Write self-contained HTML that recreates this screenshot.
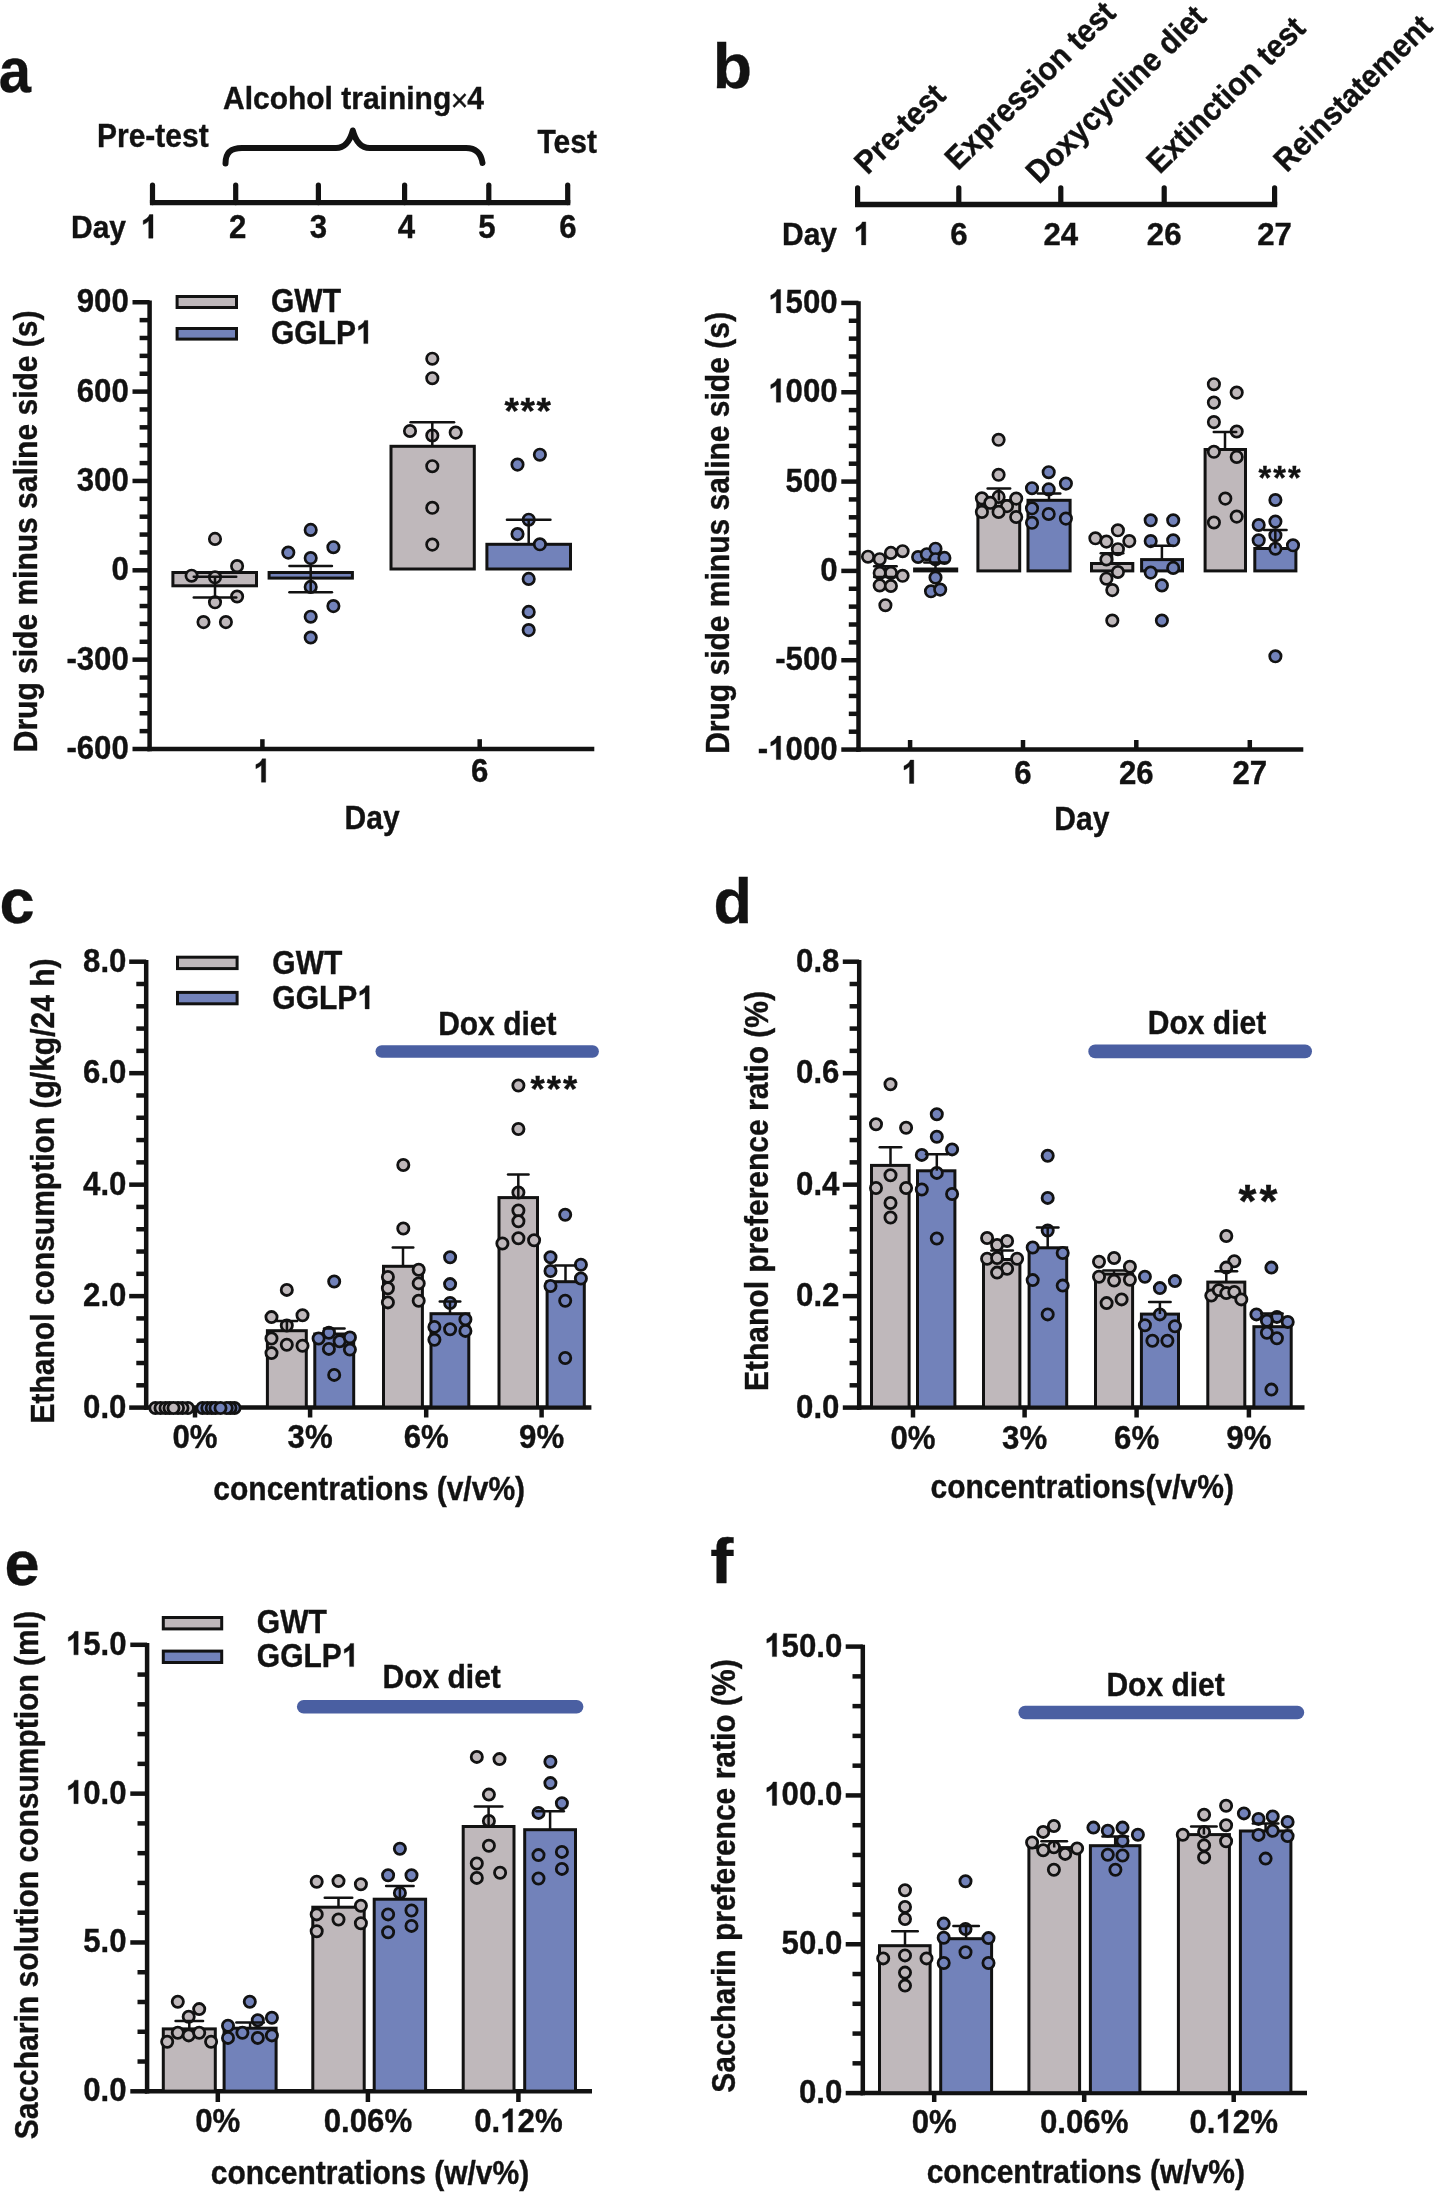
<!DOCTYPE html>
<html><head><meta charset="utf-8"><title>Figure</title>
<style>
html,body{margin:0;padding:0;background:#fff;}
body{width:1437px;height:2194px;overflow:hidden;}
svg{display:block;will-change:transform;}
text{font-family:"Liberation Sans", sans-serif;font-weight:bold;fill:#121212;stroke:#121212;stroke-width:0.35px;}
.h1{fill-opacity:0;stroke-opacity:0;}
.one{fill:#121212;stroke:#121212;stroke-width:23px;}
</style></head>
<body>
<svg width="1437" height="2194" viewBox="0 0 1437 2194">
<rect width="1437" height="2194" fill="#fff"/>
<text font-size="63" text-anchor="start" transform="translate(-1.24,91.8) scale(0.92,1)" >a</text>
<text font-size="63" text-anchor="start" transform="translate(712.7,87.9) scale(1.02,1)" >b</text>
<text x="-0.5" y="922.7" font-size="63" text-anchor="start" >c</text>
<text x="713.6" y="922.7" font-size="63" text-anchor="start" >d</text>
<text x="4.5" y="1584.7" font-size="63" text-anchor="start" >e</text>
<text font-size="63" text-anchor="start" transform="translate(710.2,1583.4) scale(1.1,1)" >f</text>
<line x1="149.9" y1="202.6" x2="570.3" y2="202.6" stroke="#121212" stroke-width="5.4" stroke-linecap="butt"/>
<line x1="152.5" y1="185.2" x2="152.5" y2="202.6" stroke="#121212" stroke-width="5.2" stroke-linecap="round"/>
<line x1="235.7" y1="185.2" x2="235.7" y2="202.6" stroke="#121212" stroke-width="5.2" stroke-linecap="round"/>
<line x1="318.4" y1="185.2" x2="318.4" y2="202.6" stroke="#121212" stroke-width="5.2" stroke-linecap="round"/>
<line x1="404.6" y1="185.2" x2="404.6" y2="202.6" stroke="#121212" stroke-width="5.2" stroke-linecap="round"/>
<line x1="488.8" y1="185.2" x2="488.8" y2="202.6" stroke="#121212" stroke-width="5.2" stroke-linecap="round"/>
<line x1="567.7" y1="185.2" x2="567.7" y2="202.6" stroke="#121212" stroke-width="5.2" stroke-linecap="round"/>
<text font-size="30" text-anchor="start" transform="translate(71,237.9) scale(1,1.06)" >Day</text>
<g transform="translate(149.3,238.2) scale(1,1.06)"><text id="t1_0" font-size="31.2" text-anchor="middle" ><tspan class="h1">1</tspan></text><path class="one" d="M812,0 L531,0 L531,1059 Q377,915 168,846 L168,1101 Q278,1137 407,1237 Q536,1337 584,1466 L812,1466 Z" transform="translate(-8.67,0) scale(0.01523,-0.01523)"/></g>
<text font-size="31.2" text-anchor="middle" transform="translate(237.7,238.2) scale(1,1.06)" >2</text>
<text font-size="31.2" text-anchor="middle" transform="translate(318.3,238.2) scale(1,1.06)" >3</text>
<text font-size="31.2" text-anchor="middle" transform="translate(406.5,238.2) scale(1,1.06)" >4</text>
<text font-size="31.2" text-anchor="middle" transform="translate(486.9,238.2) scale(1,1.06)" >5</text>
<text font-size="31.2" text-anchor="middle" transform="translate(568,238.2) scale(1,1.06)" >6</text>
<text font-size="30" text-anchor="start" transform="translate(97,146.9) scale(1,1.12)" >Pre-test</text>
<text font-size="30" text-anchor="start" transform="translate(537.5,153) scale(1,1.12)" >Test</text>
<text font-size="30" transform="translate(223,108.7) scale(1,1.04)">Alcohol training<tspan font-size="30" font-weight="normal" dy="2.4" dx="-0.5">×</tspan><tspan dy="-2.4" dx="-1">4</tspan></text>
<path d="M225.5,163.5 C225.5,152 231,148 242,148 L336,148 C345,148 350,141 352.8,130.5 C355.6,141 360.6,148 369.6,148 L466,148 C476,148 481,153 482.5,163" fill="none" stroke="#121212" stroke-width="6" stroke-linecap="round" stroke-linejoin="round"/>
<line x1="149.6" y1="300.5" x2="149.6" y2="751.25" stroke="#121212" stroke-width="4.5" stroke-linecap="butt"/>
<line x1="132.5" y1="749" x2="149.6" y2="749" stroke="#121212" stroke-width="4.5" stroke-linecap="butt"/>
<line x1="132.5" y1="659.65" x2="149.6" y2="659.65" stroke="#121212" stroke-width="4.5" stroke-linecap="butt"/>
<line x1="132.5" y1="570.3" x2="149.6" y2="570.3" stroke="#121212" stroke-width="4.5" stroke-linecap="butt"/>
<line x1="132.5" y1="480.95" x2="149.6" y2="480.95" stroke="#121212" stroke-width="4.5" stroke-linecap="butt"/>
<line x1="132.5" y1="391.6" x2="149.6" y2="391.6" stroke="#121212" stroke-width="4.5" stroke-linecap="butt"/>
<line x1="132.5" y1="302.25" x2="149.6" y2="302.25" stroke="#121212" stroke-width="4.5" stroke-linecap="butt"/>
<line x1="139.6" y1="731.13" x2="149.6" y2="731.13" stroke="#121212" stroke-width="4.5" stroke-linecap="butt"/>
<line x1="139.6" y1="713.26" x2="149.6" y2="713.26" stroke="#121212" stroke-width="4.5" stroke-linecap="butt"/>
<line x1="139.6" y1="695.39" x2="149.6" y2="695.39" stroke="#121212" stroke-width="4.5" stroke-linecap="butt"/>
<line x1="139.6" y1="677.52" x2="149.6" y2="677.52" stroke="#121212" stroke-width="4.5" stroke-linecap="butt"/>
<line x1="139.6" y1="641.78" x2="149.6" y2="641.78" stroke="#121212" stroke-width="4.5" stroke-linecap="butt"/>
<line x1="139.6" y1="623.91" x2="149.6" y2="623.91" stroke="#121212" stroke-width="4.5" stroke-linecap="butt"/>
<line x1="139.6" y1="606.04" x2="149.6" y2="606.04" stroke="#121212" stroke-width="4.5" stroke-linecap="butt"/>
<line x1="139.6" y1="588.17" x2="149.6" y2="588.17" stroke="#121212" stroke-width="4.5" stroke-linecap="butt"/>
<line x1="139.6" y1="552.43" x2="149.6" y2="552.43" stroke="#121212" stroke-width="4.5" stroke-linecap="butt"/>
<line x1="139.6" y1="534.56" x2="149.6" y2="534.56" stroke="#121212" stroke-width="4.5" stroke-linecap="butt"/>
<line x1="139.6" y1="516.69" x2="149.6" y2="516.69" stroke="#121212" stroke-width="4.5" stroke-linecap="butt"/>
<line x1="139.6" y1="498.82" x2="149.6" y2="498.82" stroke="#121212" stroke-width="4.5" stroke-linecap="butt"/>
<line x1="139.6" y1="463.08" x2="149.6" y2="463.08" stroke="#121212" stroke-width="4.5" stroke-linecap="butt"/>
<line x1="139.6" y1="445.21" x2="149.6" y2="445.21" stroke="#121212" stroke-width="4.5" stroke-linecap="butt"/>
<line x1="139.6" y1="427.34" x2="149.6" y2="427.34" stroke="#121212" stroke-width="4.5" stroke-linecap="butt"/>
<line x1="139.6" y1="409.47" x2="149.6" y2="409.47" stroke="#121212" stroke-width="4.5" stroke-linecap="butt"/>
<line x1="139.6" y1="373.73" x2="149.6" y2="373.73" stroke="#121212" stroke-width="4.5" stroke-linecap="butt"/>
<line x1="139.6" y1="355.86" x2="149.6" y2="355.86" stroke="#121212" stroke-width="4.5" stroke-linecap="butt"/>
<line x1="139.6" y1="337.99" x2="149.6" y2="337.99" stroke="#121212" stroke-width="4.5" stroke-linecap="butt"/>
<line x1="139.6" y1="320.12" x2="149.6" y2="320.12" stroke="#121212" stroke-width="4.5" stroke-linecap="butt"/>
<text font-size="31.2" text-anchor="end" transform="translate(128.8,759) scale(1,1.05)" >-600</text>
<text font-size="31.2" text-anchor="end" transform="translate(128.8,669.65) scale(1,1.05)" >-300</text>
<text font-size="31.2" text-anchor="end" transform="translate(128.8,580.3) scale(1,1.05)" >0</text>
<text font-size="31.2" text-anchor="end" transform="translate(128.8,490.95) scale(1,1.05)" >300</text>
<text font-size="31.2" text-anchor="end" transform="translate(128.8,401.6) scale(1,1.05)" >600</text>
<text font-size="31.2" text-anchor="end" transform="translate(128.8,312.25) scale(1,1.05)" >900</text>
<line x1="147.35" y1="749" x2="594.3" y2="749" stroke="#121212" stroke-width="4.5" stroke-linecap="butt"/>
<line x1="262.4" y1="749" x2="262.4" y2="739.2" stroke="#121212" stroke-width="4.5" stroke-linecap="butt"/>
<line x1="479.7" y1="749" x2="479.7" y2="739.2" stroke="#121212" stroke-width="4.5" stroke-linecap="butt"/>
<g transform="translate(262,782.2) scale(1,1.05)"><text id="t1_1" font-size="31.2" text-anchor="middle" ><tspan class="h1">1</tspan></text><path class="one" d="M812,0 L531,0 L531,1059 Q377,915 168,846 L168,1101 Q278,1137 407,1237 Q536,1337 584,1466 L812,1466 Z" transform="translate(-8.67,0) scale(0.01523,-0.01523)"/></g>
<text font-size="31.2" text-anchor="middle" transform="translate(479.7,782.2) scale(1,1.05)" >6</text>
<text font-size="30" text-anchor="middle" transform="translate(372.1,829.2) scale(1,1.08)" >Day</text>
<text font-size="30" text-anchor="middle" transform="translate(37,531.4) rotate(-90) scale(1,1.08)">Drug side minus saline side (s)</text>
<rect x="177.1" y="296.5" width="59.4" height="11" fill="#bfb8bb" stroke="#121212" stroke-width="3"/>
<rect x="177.1" y="328.5" width="59.4" height="10.6" fill="#7282ba" stroke="#121212" stroke-width="3"/>
<text font-size="30" text-anchor="start" transform="translate(271,311.6) scale(1,1.08)" >GWT</text>
<g transform="translate(271,343.6) scale(1,1.08)"><text id="t1_2" font-size="30" text-anchor="start" >GGLP<tspan class="h1">1</tspan></text><path class="one" d="M812,0 L531,0 L531,1059 Q377,915 168,846 L168,1101 Q278,1137 407,1237 Q536,1337 584,1466 L812,1466 Z" transform="translate(85.00,0) scale(0.01465,-0.01465)"/></g>
<rect x="172.9" y="572.5" width="83.6" height="13.3" fill="#bfb8bb" stroke="#121212" stroke-width="3"/>
<rect x="269.1" y="572.5" width="83.3" height="5.6" fill="#7282ba" stroke="#121212" stroke-width="3"/>
<rect x="391" y="446.3" width="83.3" height="122.7" fill="#bfb8bb" stroke="#121212" stroke-width="3"/>
<rect x="486.9" y="544.3" width="83.6" height="24.7" fill="#7282ba" stroke="#121212" stroke-width="3"/>
<circle cx="215" cy="538.9" r="5.7" fill="#bfb8bb" stroke="#121212" stroke-width="2.7"/>
<circle cx="237.1" cy="566.1" r="5.7" fill="#bfb8bb" stroke="#121212" stroke-width="2.7"/>
<circle cx="191.6" cy="575.7" r="5.7" fill="#bfb8bb" stroke="#121212" stroke-width="2.7"/>
<circle cx="215" cy="577.3" r="5.7" fill="#bfb8bb" stroke="#121212" stroke-width="2.7"/>
<circle cx="237.1" cy="596.5" r="5.7" fill="#bfb8bb" stroke="#121212" stroke-width="2.7"/>
<circle cx="215" cy="602.3" r="5.7" fill="#bfb8bb" stroke="#121212" stroke-width="2.7"/>
<circle cx="203.5" cy="622.1" r="5.7" fill="#bfb8bb" stroke="#121212" stroke-width="2.7"/>
<circle cx="225.9" cy="622.1" r="5.7" fill="#bfb8bb" stroke="#121212" stroke-width="2.7"/>
<circle cx="310.7" cy="529.9" r="5.7" fill="#7282ba" stroke="#121212" stroke-width="2.7"/>
<circle cx="288.3" cy="552.6" r="5.7" fill="#7282ba" stroke="#121212" stroke-width="2.7"/>
<circle cx="333.4" cy="547.2" r="5.7" fill="#7282ba" stroke="#121212" stroke-width="2.7"/>
<circle cx="310.7" cy="558.1" r="5.7" fill="#7282ba" stroke="#121212" stroke-width="2.7"/>
<circle cx="310.7" cy="586.9" r="5.7" fill="#7282ba" stroke="#121212" stroke-width="2.7"/>
<circle cx="333.4" cy="606.1" r="5.7" fill="#7282ba" stroke="#121212" stroke-width="2.7"/>
<circle cx="310.7" cy="616.7" r="5.7" fill="#7282ba" stroke="#121212" stroke-width="2.7"/>
<circle cx="310.7" cy="637.5" r="5.7" fill="#7282ba" stroke="#121212" stroke-width="2.7"/>
<circle cx="432.3" cy="358.7" r="5.7" fill="#bfb8bb" stroke="#121212" stroke-width="2.7"/>
<circle cx="432.3" cy="378.2" r="5.7" fill="#bfb8bb" stroke="#121212" stroke-width="2.7"/>
<circle cx="410" cy="431" r="5.7" fill="#bfb8bb" stroke="#121212" stroke-width="2.7"/>
<circle cx="432.3" cy="435.5" r="5.7" fill="#bfb8bb" stroke="#121212" stroke-width="2.7"/>
<circle cx="455.7" cy="432.6" r="5.7" fill="#bfb8bb" stroke="#121212" stroke-width="2.7"/>
<circle cx="432.3" cy="466.2" r="5.7" fill="#bfb8bb" stroke="#121212" stroke-width="2.7"/>
<circle cx="432.3" cy="507.8" r="5.7" fill="#bfb8bb" stroke="#121212" stroke-width="2.7"/>
<circle cx="432.3" cy="544.6" r="5.7" fill="#bfb8bb" stroke="#121212" stroke-width="2.7"/>
<circle cx="539.9" cy="454.7" r="5.7" fill="#7282ba" stroke="#121212" stroke-width="2.7"/>
<circle cx="517.5" cy="464.6" r="5.7" fill="#7282ba" stroke="#121212" stroke-width="2.7"/>
<circle cx="528.7" cy="519.7" r="5.7" fill="#7282ba" stroke="#121212" stroke-width="2.7"/>
<circle cx="517.5" cy="534.1" r="5.7" fill="#7282ba" stroke="#121212" stroke-width="2.7"/>
<circle cx="539.9" cy="544.3" r="5.7" fill="#7282ba" stroke="#121212" stroke-width="2.7"/>
<circle cx="528.7" cy="578.9" r="5.7" fill="#7282ba" stroke="#121212" stroke-width="2.7"/>
<circle cx="528.7" cy="611.9" r="5.7" fill="#7282ba" stroke="#121212" stroke-width="2.7"/>
<circle cx="528.7" cy="630.1" r="5.7" fill="#7282ba" stroke="#121212" stroke-width="2.7"/>
<text x="504.4" y="423.7" font-size="37" text-anchor="start" letter-spacing="1.6">***</text>
<line x1="855" y1="204.5" x2="1277.2" y2="204.5" stroke="#121212" stroke-width="5.4" stroke-linecap="butt"/>
<line x1="857.6" y1="187.8" x2="857.6" y2="204.5" stroke="#121212" stroke-width="5.2" stroke-linecap="round"/>
<line x1="958.8" y1="187.8" x2="958.8" y2="204.5" stroke="#121212" stroke-width="5.2" stroke-linecap="round"/>
<line x1="1060.8" y1="187.8" x2="1060.8" y2="204.5" stroke="#121212" stroke-width="5.2" stroke-linecap="round"/>
<line x1="1164.2" y1="187.8" x2="1164.2" y2="204.5" stroke="#121212" stroke-width="5.2" stroke-linecap="round"/>
<line x1="1274.6" y1="187.8" x2="1274.6" y2="204.5" stroke="#121212" stroke-width="5.2" stroke-linecap="round"/>
<text font-size="30" text-anchor="start" transform="translate(782,244.9) scale(1,1.03)" >Day</text>
<g transform="translate(862.1,244.9) scale(1,1.03)"><text id="t1_3" font-size="31.2" text-anchor="middle" ><tspan class="h1">1</tspan></text><path class="one" d="M812,0 L531,0 L531,1059 Q377,915 168,846 L168,1101 Q278,1137 407,1237 Q536,1337 584,1466 L812,1466 Z" transform="translate(-8.67,0) scale(0.01523,-0.01523)"/></g>
<text font-size="31.2" text-anchor="middle" transform="translate(958.8,244.9) scale(1,1.03)" >6</text>
<text font-size="31.2" text-anchor="middle" transform="translate(1060.8,244.9) scale(1,1.03)" >24</text>
<text font-size="31.2" text-anchor="middle" transform="translate(1164.2,244.9) scale(1,1.03)" >26</text>
<text font-size="31.2" text-anchor="middle" transform="translate(1274.6,244.9) scale(1,1.03)" >27</text>
<text font-size="30" transform="translate(867.6,175.7) rotate(-44.5) scale(1,1.08)">Pre-test</text>
<text font-size="30" transform="translate(958.1,171.5) rotate(-44.5) scale(1,1.08)">Expression test</text>
<text font-size="30" transform="translate(1039.1,185) rotate(-44.5) scale(1,1.08)">Doxycycline diet</text>
<text font-size="30" transform="translate(1159.8,175) rotate(-44.5) scale(1,1.08)">Extinction test</text>
<text font-size="30" transform="translate(1286.7,173.4) rotate(-44.5) scale(1,1.08)">Reinstatement</text>
<line x1="858.5" y1="301.16" x2="858.5" y2="751.81" stroke="#121212" stroke-width="4.5" stroke-linecap="butt"/>
<line x1="841.3" y1="749.56" x2="858.5" y2="749.56" stroke="#121212" stroke-width="4.5" stroke-linecap="butt"/>
<line x1="841.3" y1="660.23" x2="858.5" y2="660.23" stroke="#121212" stroke-width="4.5" stroke-linecap="butt"/>
<line x1="841.3" y1="570.9" x2="858.5" y2="570.9" stroke="#121212" stroke-width="4.5" stroke-linecap="butt"/>
<line x1="841.3" y1="481.57" x2="858.5" y2="481.57" stroke="#121212" stroke-width="4.5" stroke-linecap="butt"/>
<line x1="841.3" y1="392.24" x2="858.5" y2="392.24" stroke="#121212" stroke-width="4.5" stroke-linecap="butt"/>
<line x1="841.3" y1="302.91" x2="858.5" y2="302.91" stroke="#121212" stroke-width="4.5" stroke-linecap="butt"/>
<line x1="848.8" y1="731.69" x2="858.5" y2="731.69" stroke="#121212" stroke-width="4.5" stroke-linecap="butt"/>
<line x1="848.8" y1="713.83" x2="858.5" y2="713.83" stroke="#121212" stroke-width="4.5" stroke-linecap="butt"/>
<line x1="848.8" y1="695.96" x2="858.5" y2="695.96" stroke="#121212" stroke-width="4.5" stroke-linecap="butt"/>
<line x1="848.8" y1="678.1" x2="858.5" y2="678.1" stroke="#121212" stroke-width="4.5" stroke-linecap="butt"/>
<line x1="848.8" y1="642.36" x2="858.5" y2="642.36" stroke="#121212" stroke-width="4.5" stroke-linecap="butt"/>
<line x1="848.8" y1="624.5" x2="858.5" y2="624.5" stroke="#121212" stroke-width="4.5" stroke-linecap="butt"/>
<line x1="848.8" y1="606.63" x2="858.5" y2="606.63" stroke="#121212" stroke-width="4.5" stroke-linecap="butt"/>
<line x1="848.8" y1="588.77" x2="858.5" y2="588.77" stroke="#121212" stroke-width="4.5" stroke-linecap="butt"/>
<line x1="848.8" y1="553.03" x2="858.5" y2="553.03" stroke="#121212" stroke-width="4.5" stroke-linecap="butt"/>
<line x1="848.8" y1="535.17" x2="858.5" y2="535.17" stroke="#121212" stroke-width="4.5" stroke-linecap="butt"/>
<line x1="848.8" y1="517.3" x2="858.5" y2="517.3" stroke="#121212" stroke-width="4.5" stroke-linecap="butt"/>
<line x1="848.8" y1="499.44" x2="858.5" y2="499.44" stroke="#121212" stroke-width="4.5" stroke-linecap="butt"/>
<line x1="848.8" y1="463.7" x2="858.5" y2="463.7" stroke="#121212" stroke-width="4.5" stroke-linecap="butt"/>
<line x1="848.8" y1="445.84" x2="858.5" y2="445.84" stroke="#121212" stroke-width="4.5" stroke-linecap="butt"/>
<line x1="848.8" y1="427.97" x2="858.5" y2="427.97" stroke="#121212" stroke-width="4.5" stroke-linecap="butt"/>
<line x1="848.8" y1="410.11" x2="858.5" y2="410.11" stroke="#121212" stroke-width="4.5" stroke-linecap="butt"/>
<line x1="848.8" y1="374.37" x2="858.5" y2="374.37" stroke="#121212" stroke-width="4.5" stroke-linecap="butt"/>
<line x1="848.8" y1="356.51" x2="858.5" y2="356.51" stroke="#121212" stroke-width="4.5" stroke-linecap="butt"/>
<line x1="848.8" y1="338.64" x2="858.5" y2="338.64" stroke="#121212" stroke-width="4.5" stroke-linecap="butt"/>
<line x1="848.8" y1="320.78" x2="858.5" y2="320.78" stroke="#121212" stroke-width="4.5" stroke-linecap="butt"/>
<g transform="translate(837.6,759.56) scale(1,1.05)"><text id="t1_4" font-size="31.2" text-anchor="end" >-<tspan class="h1">1</tspan>000</text><path class="one" d="M812,0 L531,0 L531,1059 Q377,915 168,846 L168,1101 Q278,1137 407,1237 Q536,1337 584,1466 L812,1466 Z" transform="translate(-69.37,0) scale(0.01523,-0.01523)"/></g>
<text font-size="31.2" text-anchor="end" transform="translate(837.6,670.23) scale(1,1.05)" >-500</text>
<text font-size="31.2" text-anchor="end" transform="translate(837.6,580.9) scale(1,1.05)" >0</text>
<text font-size="31.2" text-anchor="end" transform="translate(837.6,491.57) scale(1,1.05)" >500</text>
<g transform="translate(837.6,402.24) scale(1,1.05)"><text id="t1_5" font-size="31.2" text-anchor="end" ><tspan class="h1">1</tspan>000</text><path class="one" d="M812,0 L531,0 L531,1059 Q377,915 168,846 L168,1101 Q278,1137 407,1237 Q536,1337 584,1466 L812,1466 Z" transform="translate(-69.37,0) scale(0.01523,-0.01523)"/></g>
<g transform="translate(837.6,312.91) scale(1,1.05)"><text id="t1_6" font-size="31.2" text-anchor="end" ><tspan class="h1">1</tspan>500</text><path class="one" d="M812,0 L531,0 L531,1059 Q377,915 168,846 L168,1101 Q278,1137 407,1237 Q536,1337 584,1466 L812,1466 Z" transform="translate(-69.37,0) scale(0.01523,-0.01523)"/></g>
<line x1="856.25" y1="749.56" x2="1303.3" y2="749.56" stroke="#121212" stroke-width="4.5" stroke-linecap="butt"/>
<line x1="910.1" y1="749.56" x2="910.1" y2="740" stroke="#121212" stroke-width="4.5" stroke-linecap="butt"/>
<line x1="1023" y1="749.56" x2="1023" y2="740" stroke="#121212" stroke-width="4.5" stroke-linecap="butt"/>
<line x1="1136.3" y1="749.56" x2="1136.3" y2="740" stroke="#121212" stroke-width="4.5" stroke-linecap="butt"/>
<line x1="1249.8" y1="749.56" x2="1249.8" y2="740" stroke="#121212" stroke-width="4.5" stroke-linecap="butt"/>
<g transform="translate(910.1,783.5) scale(1,1.05)"><text id="t1_7" font-size="31.2" text-anchor="middle" ><tspan class="h1">1</tspan></text><path class="one" d="M812,0 L531,0 L531,1059 Q377,915 168,846 L168,1101 Q278,1137 407,1237 Q536,1337 584,1466 L812,1466 Z" transform="translate(-8.67,0) scale(0.01523,-0.01523)"/></g>
<text font-size="31.2" text-anchor="middle" transform="translate(1023,783.5) scale(1,1.05)" >6</text>
<text font-size="31.2" text-anchor="middle" transform="translate(1136.3,783.5) scale(1,1.05)" >26</text>
<text font-size="31.2" text-anchor="middle" transform="translate(1249.8,783.5) scale(1,1.05)" >27</text>
<text font-size="30" text-anchor="middle" transform="translate(1081.8,830.2) scale(1,1.08)" >Day</text>
<text font-size="30" text-anchor="middle" transform="translate(728.6,533) rotate(-90) scale(1,1.08)">Drug side minus saline side (s)</text>
<rect x="914.6" y="569" width="42.1" height="1.9" fill="#7282ba" stroke="#121212" stroke-width="3"/>
<rect x="977.9" y="500.7" width="41.8" height="70.2" fill="#bfb8bb" stroke="#121212" stroke-width="3"/>
<rect x="1028" y="500.3" width="42.1" height="70.6" fill="#7282ba" stroke="#121212" stroke-width="3"/>
<rect x="1091.5" y="563.5" width="41.3" height="7.4" fill="#bfb8bb" stroke="#121212" stroke-width="3"/>
<rect x="1141.6" y="559.6" width="40.9" height="11.3" fill="#7282ba" stroke="#121212" stroke-width="3"/>
<rect x="1205.1" y="449.5" width="40.4" height="121.4" fill="#bfb8bb" stroke="#121212" stroke-width="3"/>
<rect x="1254.8" y="548.5" width="41.1" height="22.4" fill="#7282ba" stroke="#121212" stroke-width="3"/>
<circle cx="868" cy="556.7" r="5.7" fill="#bfb8bb" stroke="#121212" stroke-width="2.7"/>
<circle cx="879.7" cy="559.2" r="5.7" fill="#bfb8bb" stroke="#121212" stroke-width="2.7"/>
<circle cx="890.9" cy="552.9" r="5.7" fill="#bfb8bb" stroke="#121212" stroke-width="2.7"/>
<circle cx="902.6" cy="551.2" r="5.7" fill="#bfb8bb" stroke="#121212" stroke-width="2.7"/>
<circle cx="879.7" cy="572.9" r="5.7" fill="#bfb8bb" stroke="#121212" stroke-width="2.7"/>
<circle cx="890.9" cy="572.9" r="5.7" fill="#bfb8bb" stroke="#121212" stroke-width="2.7"/>
<circle cx="902.6" cy="575.8" r="5.7" fill="#bfb8bb" stroke="#121212" stroke-width="2.7"/>
<circle cx="879.7" cy="585.4" r="5.7" fill="#bfb8bb" stroke="#121212" stroke-width="2.7"/>
<circle cx="890.9" cy="586" r="5.7" fill="#bfb8bb" stroke="#121212" stroke-width="2.7"/>
<circle cx="885.4" cy="605.2" r="5.7" fill="#bfb8bb" stroke="#121212" stroke-width="2.7"/>
<circle cx="918.1" cy="557" r="5.7" fill="#7282ba" stroke="#121212" stroke-width="2.7"/>
<circle cx="926.8" cy="554.2" r="5.7" fill="#7282ba" stroke="#121212" stroke-width="2.7"/>
<circle cx="935.5" cy="548.7" r="5.7" fill="#7282ba" stroke="#121212" stroke-width="2.7"/>
<circle cx="935.5" cy="559.2" r="5.7" fill="#7282ba" stroke="#121212" stroke-width="2.7"/>
<circle cx="944.4" cy="557.9" r="5.7" fill="#7282ba" stroke="#121212" stroke-width="2.7"/>
<circle cx="935.5" cy="577.6" r="5.7" fill="#7282ba" stroke="#121212" stroke-width="2.7"/>
<circle cx="931" cy="591.3" r="5.7" fill="#7282ba" stroke="#121212" stroke-width="2.7"/>
<circle cx="940.2" cy="589.6" r="5.7" fill="#7282ba" stroke="#121212" stroke-width="2.7"/>
<circle cx="998.6" cy="439.8" r="5.7" fill="#bfb8bb" stroke="#121212" stroke-width="2.7"/>
<circle cx="998.6" cy="474.8" r="5.7" fill="#bfb8bb" stroke="#121212" stroke-width="2.7"/>
<circle cx="981.9" cy="498.3" r="5.7" fill="#bfb8bb" stroke="#121212" stroke-width="2.7"/>
<circle cx="998.6" cy="496.9" r="5.7" fill="#bfb8bb" stroke="#121212" stroke-width="2.7"/>
<circle cx="1016.2" cy="498.6" r="5.7" fill="#bfb8bb" stroke="#121212" stroke-width="2.7"/>
<circle cx="990.3" cy="502.8" r="5.7" fill="#bfb8bb" stroke="#121212" stroke-width="2.7"/>
<circle cx="1007" cy="506.1" r="5.7" fill="#bfb8bb" stroke="#121212" stroke-width="2.7"/>
<circle cx="981.9" cy="511.9" r="5.7" fill="#bfb8bb" stroke="#121212" stroke-width="2.7"/>
<circle cx="998.6" cy="511.9" r="5.7" fill="#bfb8bb" stroke="#121212" stroke-width="2.7"/>
<circle cx="1016.2" cy="517" r="5.7" fill="#bfb8bb" stroke="#121212" stroke-width="2.7"/>
<circle cx="1048.7" cy="472.2" r="5.7" fill="#7282ba" stroke="#121212" stroke-width="2.7"/>
<circle cx="1032" cy="488.2" r="5.7" fill="#7282ba" stroke="#121212" stroke-width="2.7"/>
<circle cx="1065.9" cy="483.6" r="5.7" fill="#7282ba" stroke="#121212" stroke-width="2.7"/>
<circle cx="1048.7" cy="489.4" r="5.7" fill="#7282ba" stroke="#121212" stroke-width="2.7"/>
<circle cx="1032" cy="508.3" r="5.7" fill="#7282ba" stroke="#121212" stroke-width="2.7"/>
<circle cx="1048.7" cy="514" r="5.7" fill="#7282ba" stroke="#121212" stroke-width="2.7"/>
<circle cx="1065.9" cy="518.6" r="5.7" fill="#7282ba" stroke="#121212" stroke-width="2.7"/>
<circle cx="1032" cy="522.8" r="5.7" fill="#7282ba" stroke="#121212" stroke-width="2.7"/>
<circle cx="1095.4" cy="538.3" r="5.7" fill="#bfb8bb" stroke="#121212" stroke-width="2.7"/>
<circle cx="1106.4" cy="541.6" r="5.7" fill="#bfb8bb" stroke="#121212" stroke-width="2.7"/>
<circle cx="1117.9" cy="530.3" r="5.7" fill="#bfb8bb" stroke="#121212" stroke-width="2.7"/>
<circle cx="1129.3" cy="541.1" r="5.7" fill="#bfb8bb" stroke="#121212" stroke-width="2.7"/>
<circle cx="1117.9" cy="549.2" r="5.7" fill="#bfb8bb" stroke="#121212" stroke-width="2.7"/>
<circle cx="1106.4" cy="559.5" r="5.7" fill="#bfb8bb" stroke="#121212" stroke-width="2.7"/>
<circle cx="1117.9" cy="572" r="5.7" fill="#bfb8bb" stroke="#121212" stroke-width="2.7"/>
<circle cx="1106.4" cy="578.7" r="5.7" fill="#bfb8bb" stroke="#121212" stroke-width="2.7"/>
<circle cx="1112.3" cy="590.1" r="5.7" fill="#bfb8bb" stroke="#121212" stroke-width="2.7"/>
<circle cx="1112.3" cy="620.5" r="5.7" fill="#bfb8bb" stroke="#121212" stroke-width="2.7"/>
<circle cx="1150.7" cy="520.3" r="5.7" fill="#7282ba" stroke="#121212" stroke-width="2.7"/>
<circle cx="1173.2" cy="520.3" r="5.7" fill="#7282ba" stroke="#121212" stroke-width="2.7"/>
<circle cx="1150.7" cy="541.1" r="5.7" fill="#7282ba" stroke="#121212" stroke-width="2.7"/>
<circle cx="1173.2" cy="540.3" r="5.7" fill="#7282ba" stroke="#121212" stroke-width="2.7"/>
<circle cx="1173.2" cy="567.9" r="5.7" fill="#7282ba" stroke="#121212" stroke-width="2.7"/>
<circle cx="1150.7" cy="572.6" r="5.7" fill="#7282ba" stroke="#121212" stroke-width="2.7"/>
<circle cx="1161.9" cy="585.4" r="5.7" fill="#7282ba" stroke="#121212" stroke-width="2.7"/>
<circle cx="1161.9" cy="620.5" r="5.7" fill="#7282ba" stroke="#121212" stroke-width="2.7"/>
<circle cx="1213.9" cy="384.2" r="5.7" fill="#bfb8bb" stroke="#121212" stroke-width="2.7"/>
<circle cx="1236.7" cy="392.6" r="5.7" fill="#bfb8bb" stroke="#121212" stroke-width="2.7"/>
<circle cx="1213.9" cy="402.6" r="5.7" fill="#bfb8bb" stroke="#121212" stroke-width="2.7"/>
<circle cx="1213.9" cy="422.1" r="5.7" fill="#bfb8bb" stroke="#121212" stroke-width="2.7"/>
<circle cx="1236.7" cy="431.5" r="5.7" fill="#bfb8bb" stroke="#121212" stroke-width="2.7"/>
<circle cx="1213.9" cy="451.8" r="5.7" fill="#bfb8bb" stroke="#121212" stroke-width="2.7"/>
<circle cx="1236.7" cy="456.9" r="5.7" fill="#bfb8bb" stroke="#121212" stroke-width="2.7"/>
<circle cx="1225.3" cy="498.6" r="5.7" fill="#bfb8bb" stroke="#121212" stroke-width="2.7"/>
<circle cx="1236.7" cy="516.6" r="5.7" fill="#bfb8bb" stroke="#121212" stroke-width="2.7"/>
<circle cx="1213.9" cy="522.5" r="5.7" fill="#bfb8bb" stroke="#121212" stroke-width="2.7"/>
<circle cx="1275.4" cy="500" r="5.7" fill="#7282ba" stroke="#121212" stroke-width="2.7"/>
<circle cx="1258.7" cy="525" r="5.7" fill="#7282ba" stroke="#121212" stroke-width="2.7"/>
<circle cx="1275.4" cy="521.6" r="5.7" fill="#7282ba" stroke="#121212" stroke-width="2.7"/>
<circle cx="1275.4" cy="535.3" r="5.7" fill="#7282ba" stroke="#121212" stroke-width="2.7"/>
<circle cx="1258.7" cy="540.3" r="5.7" fill="#7282ba" stroke="#121212" stroke-width="2.7"/>
<circle cx="1293" cy="545.3" r="5.7" fill="#7282ba" stroke="#121212" stroke-width="2.7"/>
<circle cx="1275.4" cy="548.7" r="5.7" fill="#7282ba" stroke="#121212" stroke-width="2.7"/>
<circle cx="1275.4" cy="656.3" r="5.7" fill="#7282ba" stroke="#121212" stroke-width="2.7"/>
<text x="1258.4" y="488.9" font-size="32.6" text-anchor="start" letter-spacing="2.1">***</text>
<line x1="146.2" y1="959.95" x2="146.2" y2="1409.85" stroke="#121212" stroke-width="4.5" stroke-linecap="butt"/>
<line x1="129.2" y1="1407.6" x2="146.2" y2="1407.6" stroke="#121212" stroke-width="4.5" stroke-linecap="butt"/>
<line x1="129.2" y1="1296.12" x2="146.2" y2="1296.12" stroke="#121212" stroke-width="4.5" stroke-linecap="butt"/>
<line x1="129.2" y1="1184.65" x2="146.2" y2="1184.65" stroke="#121212" stroke-width="4.5" stroke-linecap="butt"/>
<line x1="129.2" y1="1073.17" x2="146.2" y2="1073.17" stroke="#121212" stroke-width="4.5" stroke-linecap="butt"/>
<line x1="129.2" y1="961.7" x2="146.2" y2="961.7" stroke="#121212" stroke-width="4.5" stroke-linecap="butt"/>
<line x1="136.3" y1="1385.3" x2="146.2" y2="1385.3" stroke="#121212" stroke-width="4.5" stroke-linecap="butt"/>
<line x1="136.3" y1="1363.01" x2="146.2" y2="1363.01" stroke="#121212" stroke-width="4.5" stroke-linecap="butt"/>
<line x1="136.3" y1="1340.71" x2="146.2" y2="1340.71" stroke="#121212" stroke-width="4.5" stroke-linecap="butt"/>
<line x1="136.3" y1="1318.42" x2="146.2" y2="1318.42" stroke="#121212" stroke-width="4.5" stroke-linecap="butt"/>
<line x1="136.3" y1="1273.83" x2="146.2" y2="1273.83" stroke="#121212" stroke-width="4.5" stroke-linecap="butt"/>
<line x1="136.3" y1="1251.53" x2="146.2" y2="1251.53" stroke="#121212" stroke-width="4.5" stroke-linecap="butt"/>
<line x1="136.3" y1="1229.24" x2="146.2" y2="1229.24" stroke="#121212" stroke-width="4.5" stroke-linecap="butt"/>
<line x1="136.3" y1="1206.94" x2="146.2" y2="1206.94" stroke="#121212" stroke-width="4.5" stroke-linecap="butt"/>
<line x1="136.3" y1="1162.36" x2="146.2" y2="1162.36" stroke="#121212" stroke-width="4.5" stroke-linecap="butt"/>
<line x1="136.3" y1="1140.06" x2="146.2" y2="1140.06" stroke="#121212" stroke-width="4.5" stroke-linecap="butt"/>
<line x1="136.3" y1="1117.76" x2="146.2" y2="1117.76" stroke="#121212" stroke-width="4.5" stroke-linecap="butt"/>
<line x1="136.3" y1="1095.47" x2="146.2" y2="1095.47" stroke="#121212" stroke-width="4.5" stroke-linecap="butt"/>
<line x1="136.3" y1="1050.88" x2="146.2" y2="1050.88" stroke="#121212" stroke-width="4.5" stroke-linecap="butt"/>
<line x1="136.3" y1="1028.58" x2="146.2" y2="1028.58" stroke="#121212" stroke-width="4.5" stroke-linecap="butt"/>
<line x1="136.3" y1="1006.29" x2="146.2" y2="1006.29" stroke="#121212" stroke-width="4.5" stroke-linecap="butt"/>
<line x1="136.3" y1="983.99" x2="146.2" y2="983.99" stroke="#121212" stroke-width="4.5" stroke-linecap="butt"/>
<text font-size="31.2" text-anchor="end" transform="translate(126.4,1417.6) scale(1,1.05)" >0.0</text>
<text font-size="31.2" text-anchor="end" transform="translate(126.4,1306.12) scale(1,1.05)" >2.0</text>
<text font-size="31.2" text-anchor="end" transform="translate(126.4,1194.65) scale(1,1.05)" >4.0</text>
<text font-size="31.2" text-anchor="end" transform="translate(126.4,1083.17) scale(1,1.05)" >6.0</text>
<text font-size="31.2" text-anchor="end" transform="translate(126.4,971.7) scale(1,1.05)" >8.0</text>
<line x1="143.95" y1="1407.6" x2="591.4" y2="1407.6" stroke="#121212" stroke-width="4.5" stroke-linecap="butt"/>
<line x1="195" y1="1407.6" x2="195" y2="1417.5" stroke="#121212" stroke-width="4.5" stroke-linecap="butt"/>
<line x1="310.1" y1="1407.6" x2="310.1" y2="1417.5" stroke="#121212" stroke-width="4.5" stroke-linecap="butt"/>
<line x1="426.2" y1="1407.6" x2="426.2" y2="1417.5" stroke="#121212" stroke-width="4.5" stroke-linecap="butt"/>
<line x1="541.6" y1="1407.6" x2="541.6" y2="1417.5" stroke="#121212" stroke-width="4.5" stroke-linecap="butt"/>
<text font-size="31.2" text-anchor="middle" transform="translate(195,1448.2) scale(1,1.05)" >0%</text>
<text font-size="31.2" text-anchor="middle" transform="translate(310.1,1448.2) scale(1,1.05)" >3%</text>
<text font-size="31.2" text-anchor="middle" transform="translate(426.2,1448.2) scale(1,1.05)" >6%</text>
<text font-size="31.2" text-anchor="middle" transform="translate(541.6,1448.2) scale(1,1.05)" >9%</text>
<text font-size="30" text-anchor="middle" transform="translate(369.2,1500.1) scale(1,1.08)" >concentrations (v/v%)</text>
<text font-size="30" text-anchor="middle" transform="translate(54,1191) rotate(-90) scale(1,1.08)">Ethanol consumption (g/kg/24 h)</text>
<rect x="177.5" y="957.2" width="59.6" height="11.4" fill="#bfb8bb" stroke="#121212" stroke-width="3"/>
<rect x="177.5" y="992.4" width="59.6" height="11.4" fill="#7282ba" stroke="#121212" stroke-width="3"/>
<text font-size="30" text-anchor="start" transform="translate(272.3,973.7) scale(1,1.08)" >GWT</text>
<g transform="translate(272.3,1008.9) scale(1,1.08)"><text id="t1_8" font-size="30" text-anchor="start" >GGLP<tspan class="h1">1</tspan></text><path class="one" d="M812,0 L531,0 L531,1059 Q377,915 168,846 L168,1101 Q278,1137 407,1237 Q536,1337 584,1466 L812,1466 Z" transform="translate(85.00,0) scale(0.01465,-0.01465)"/></g>
<line x1="381.7" y1="1051.5" x2="592.7" y2="1051.5" stroke="#4a5fa2" stroke-width="12.4" stroke-linecap="round"/>
<text font-size="30" text-anchor="middle" transform="translate(497.3,1034.9) scale(1,1.08)" >Dox diet</text>
<rect x="267.4" y="1330.7" width="38.9" height="76.3" fill="#bfb8bb" stroke="#121212" stroke-width="3"/>
<rect x="314.8" y="1334" width="38.9" height="73" fill="#7282ba" stroke="#121212" stroke-width="3"/>
<rect x="383.5" y="1266.3" width="38.9" height="140.7" fill="#bfb8bb" stroke="#121212" stroke-width="3"/>
<rect x="431" y="1313.7" width="37.8" height="93.3" fill="#7282ba" stroke="#121212" stroke-width="3"/>
<rect x="499" y="1197.6" width="38.5" height="209.4" fill="#bfb8bb" stroke="#121212" stroke-width="3"/>
<rect x="547.1" y="1281.7" width="37.2" height="125.3" fill="#7282ba" stroke="#121212" stroke-width="3"/>
<circle cx="286.8" cy="1289.9" r="5.6" fill="#bfb8bb" stroke="#121212" stroke-width="2.8"/>
<circle cx="271.5" cy="1317.1" r="5.6" fill="#bfb8bb" stroke="#121212" stroke-width="2.8"/>
<circle cx="302.5" cy="1315.2" r="5.6" fill="#bfb8bb" stroke="#121212" stroke-width="2.8"/>
<circle cx="286.8" cy="1325.5" r="5.6" fill="#bfb8bb" stroke="#121212" stroke-width="2.8"/>
<circle cx="271.5" cy="1338.5" r="5.6" fill="#bfb8bb" stroke="#121212" stroke-width="2.8"/>
<circle cx="286.8" cy="1344.7" r="5.6" fill="#bfb8bb" stroke="#121212" stroke-width="2.8"/>
<circle cx="302.5" cy="1345.8" r="5.6" fill="#bfb8bb" stroke="#121212" stroke-width="2.8"/>
<circle cx="271.5" cy="1353.1" r="5.6" fill="#bfb8bb" stroke="#121212" stroke-width="2.8"/>
<circle cx="334.2" cy="1281.5" r="5.6" fill="#7282ba" stroke="#121212" stroke-width="2.8"/>
<circle cx="318.6" cy="1338.5" r="5.6" fill="#7282ba" stroke="#121212" stroke-width="2.8"/>
<circle cx="328.9" cy="1332.8" r="5.6" fill="#7282ba" stroke="#121212" stroke-width="2.8"/>
<circle cx="339.6" cy="1341.2" r="5.6" fill="#7282ba" stroke="#121212" stroke-width="2.8"/>
<circle cx="349.9" cy="1337.4" r="5.6" fill="#7282ba" stroke="#121212" stroke-width="2.8"/>
<circle cx="328.9" cy="1348.9" r="5.6" fill="#7282ba" stroke="#121212" stroke-width="2.8"/>
<circle cx="349.9" cy="1349.6" r="5.6" fill="#7282ba" stroke="#121212" stroke-width="2.8"/>
<circle cx="334.2" cy="1374.9" r="5.6" fill="#7282ba" stroke="#121212" stroke-width="2.8"/>
<circle cx="403.3" cy="1165" r="5.6" fill="#bfb8bb" stroke="#121212" stroke-width="2.8"/>
<circle cx="403.3" cy="1228.5" r="5.6" fill="#bfb8bb" stroke="#121212" stroke-width="2.8"/>
<circle cx="387.9" cy="1276.9" r="5.6" fill="#bfb8bb" stroke="#121212" stroke-width="2.8"/>
<circle cx="418.7" cy="1269.7" r="5.6" fill="#bfb8bb" stroke="#121212" stroke-width="2.8"/>
<circle cx="387.9" cy="1288.3" r="5.6" fill="#bfb8bb" stroke="#121212" stroke-width="2.8"/>
<circle cx="418.7" cy="1283.4" r="5.6" fill="#bfb8bb" stroke="#121212" stroke-width="2.8"/>
<circle cx="387.9" cy="1302.4" r="5.6" fill="#bfb8bb" stroke="#121212" stroke-width="2.8"/>
<circle cx="418.7" cy="1300.8" r="5.6" fill="#bfb8bb" stroke="#121212" stroke-width="2.8"/>
<circle cx="450.1" cy="1257.3" r="5.6" fill="#7282ba" stroke="#121212" stroke-width="2.8"/>
<circle cx="450.1" cy="1284.1" r="5.6" fill="#7282ba" stroke="#121212" stroke-width="2.8"/>
<circle cx="450.1" cy="1303" r="5.6" fill="#7282ba" stroke="#121212" stroke-width="2.8"/>
<circle cx="434.4" cy="1326.9" r="5.6" fill="#7282ba" stroke="#121212" stroke-width="2.8"/>
<circle cx="450.1" cy="1329.2" r="5.6" fill="#7282ba" stroke="#121212" stroke-width="2.8"/>
<circle cx="465.4" cy="1319.4" r="5.6" fill="#7282ba" stroke="#121212" stroke-width="2.8"/>
<circle cx="465.4" cy="1330.9" r="5.6" fill="#7282ba" stroke="#121212" stroke-width="2.8"/>
<circle cx="434.4" cy="1339.7" r="5.6" fill="#7282ba" stroke="#121212" stroke-width="2.8"/>
<circle cx="518.4" cy="1085.5" r="5.6" fill="#bfb8bb" stroke="#121212" stroke-width="2.8"/>
<circle cx="518.4" cy="1129" r="5.6" fill="#bfb8bb" stroke="#121212" stroke-width="2.8"/>
<circle cx="518.4" cy="1192.5" r="5.6" fill="#bfb8bb" stroke="#121212" stroke-width="2.8"/>
<circle cx="518.4" cy="1210.5" r="5.6" fill="#bfb8bb" stroke="#121212" stroke-width="2.8"/>
<circle cx="518.4" cy="1221.3" r="5.6" fill="#bfb8bb" stroke="#121212" stroke-width="2.8"/>
<circle cx="518.4" cy="1238.3" r="5.6" fill="#bfb8bb" stroke="#121212" stroke-width="2.8"/>
<circle cx="502.4" cy="1243.5" r="5.6" fill="#bfb8bb" stroke="#121212" stroke-width="2.8"/>
<circle cx="534.1" cy="1240.2" r="5.6" fill="#bfb8bb" stroke="#121212" stroke-width="2.8"/>
<circle cx="565.2" cy="1214.7" r="5.6" fill="#7282ba" stroke="#121212" stroke-width="2.8"/>
<circle cx="550.5" cy="1257.3" r="5.6" fill="#7282ba" stroke="#121212" stroke-width="2.8"/>
<circle cx="580.9" cy="1264.8" r="5.6" fill="#7282ba" stroke="#121212" stroke-width="2.8"/>
<circle cx="550.5" cy="1271" r="5.6" fill="#7282ba" stroke="#121212" stroke-width="2.8"/>
<circle cx="580.9" cy="1278.5" r="5.6" fill="#7282ba" stroke="#121212" stroke-width="2.8"/>
<circle cx="550.5" cy="1286" r="5.6" fill="#7282ba" stroke="#121212" stroke-width="2.8"/>
<circle cx="565.2" cy="1300.8" r="5.6" fill="#7282ba" stroke="#121212" stroke-width="2.8"/>
<circle cx="565.2" cy="1358" r="5.6" fill="#7282ba" stroke="#121212" stroke-width="2.8"/>
<circle cx="155.4" cy="1408" r="5.6" fill="#bfb8bb" stroke="#121212" stroke-width="2.8"/>
<circle cx="160.5" cy="1408" r="5.6" fill="#bfb8bb" stroke="#121212" stroke-width="2.8"/>
<circle cx="165.5" cy="1408" r="5.6" fill="#bfb8bb" stroke="#121212" stroke-width="2.8"/>
<circle cx="169.5" cy="1408" r="5.6" fill="#bfb8bb" stroke="#121212" stroke-width="2.8"/>
<circle cx="187.9" cy="1408" r="5.6" fill="#bfb8bb" stroke="#121212" stroke-width="2.8"/>
<circle cx="182.5" cy="1408" r="5.6" fill="#bfb8bb" stroke="#121212" stroke-width="2.8"/>
<circle cx="178" cy="1408" r="5.6" fill="#bfb8bb" stroke="#121212" stroke-width="2.8"/>
<circle cx="173.5" cy="1408" r="5.6" fill="#bfb8bb" stroke="#121212" stroke-width="2.8"/>
<circle cx="202.5" cy="1408" r="5.6" fill="#7282ba" stroke="#121212" stroke-width="2.8"/>
<circle cx="207.3" cy="1408" r="5.6" fill="#7282ba" stroke="#121212" stroke-width="2.8"/>
<circle cx="211.7" cy="1408" r="5.6" fill="#7282ba" stroke="#121212" stroke-width="2.8"/>
<circle cx="215.5" cy="1408" r="5.6" fill="#7282ba" stroke="#121212" stroke-width="2.8"/>
<circle cx="234.5" cy="1408" r="5.6" fill="#7282ba" stroke="#121212" stroke-width="2.8"/>
<circle cx="230.5" cy="1408" r="5.6" fill="#7282ba" stroke="#121212" stroke-width="2.8"/>
<circle cx="226.7" cy="1408" r="5.6" fill="#7282ba" stroke="#121212" stroke-width="2.8"/>
<circle cx="220.5" cy="1408" r="5.6" fill="#7282ba" stroke="#121212" stroke-width="2.8"/>
<text x="530.6" y="1101.6" font-size="36.5" text-anchor="start" letter-spacing="2.0">***</text>
<line x1="859.2" y1="959.95" x2="859.2" y2="1409.85" stroke="#121212" stroke-width="4.5" stroke-linecap="butt"/>
<line x1="842.8" y1="1407.6" x2="859.2" y2="1407.6" stroke="#121212" stroke-width="4.5" stroke-linecap="butt"/>
<line x1="842.8" y1="1296.12" x2="859.2" y2="1296.12" stroke="#121212" stroke-width="4.5" stroke-linecap="butt"/>
<line x1="842.8" y1="1184.65" x2="859.2" y2="1184.65" stroke="#121212" stroke-width="4.5" stroke-linecap="butt"/>
<line x1="842.8" y1="1073.17" x2="859.2" y2="1073.17" stroke="#121212" stroke-width="4.5" stroke-linecap="butt"/>
<line x1="842.8" y1="961.7" x2="859.2" y2="961.7" stroke="#121212" stroke-width="4.5" stroke-linecap="butt"/>
<line x1="849.6" y1="1385.3" x2="859.2" y2="1385.3" stroke="#121212" stroke-width="4.5" stroke-linecap="butt"/>
<line x1="849.6" y1="1363.01" x2="859.2" y2="1363.01" stroke="#121212" stroke-width="4.5" stroke-linecap="butt"/>
<line x1="849.6" y1="1340.71" x2="859.2" y2="1340.71" stroke="#121212" stroke-width="4.5" stroke-linecap="butt"/>
<line x1="849.6" y1="1318.42" x2="859.2" y2="1318.42" stroke="#121212" stroke-width="4.5" stroke-linecap="butt"/>
<line x1="849.6" y1="1273.83" x2="859.2" y2="1273.83" stroke="#121212" stroke-width="4.5" stroke-linecap="butt"/>
<line x1="849.6" y1="1251.53" x2="859.2" y2="1251.53" stroke="#121212" stroke-width="4.5" stroke-linecap="butt"/>
<line x1="849.6" y1="1229.24" x2="859.2" y2="1229.24" stroke="#121212" stroke-width="4.5" stroke-linecap="butt"/>
<line x1="849.6" y1="1206.94" x2="859.2" y2="1206.94" stroke="#121212" stroke-width="4.5" stroke-linecap="butt"/>
<line x1="849.6" y1="1162.36" x2="859.2" y2="1162.36" stroke="#121212" stroke-width="4.5" stroke-linecap="butt"/>
<line x1="849.6" y1="1140.06" x2="859.2" y2="1140.06" stroke="#121212" stroke-width="4.5" stroke-linecap="butt"/>
<line x1="849.6" y1="1117.76" x2="859.2" y2="1117.76" stroke="#121212" stroke-width="4.5" stroke-linecap="butt"/>
<line x1="849.6" y1="1095.47" x2="859.2" y2="1095.47" stroke="#121212" stroke-width="4.5" stroke-linecap="butt"/>
<line x1="849.6" y1="1050.88" x2="859.2" y2="1050.88" stroke="#121212" stroke-width="4.5" stroke-linecap="butt"/>
<line x1="849.6" y1="1028.59" x2="859.2" y2="1028.59" stroke="#121212" stroke-width="4.5" stroke-linecap="butt"/>
<line x1="849.6" y1="1006.29" x2="859.2" y2="1006.29" stroke="#121212" stroke-width="4.5" stroke-linecap="butt"/>
<line x1="849.6" y1="984" x2="859.2" y2="984" stroke="#121212" stroke-width="4.5" stroke-linecap="butt"/>
<text font-size="31.2" text-anchor="end" transform="translate(839.4,1417.6) scale(1,1.05)" >0.0</text>
<text font-size="31.2" text-anchor="end" transform="translate(839.4,1306.12) scale(1,1.05)" >0.2</text>
<text font-size="31.2" text-anchor="end" transform="translate(839.4,1194.65) scale(1,1.05)" >0.4</text>
<text font-size="31.2" text-anchor="end" transform="translate(839.4,1083.17) scale(1,1.05)" >0.6</text>
<text font-size="31.2" text-anchor="end" transform="translate(839.4,971.7) scale(1,1.05)" >0.8</text>
<line x1="856.95" y1="1407.6" x2="1304.5" y2="1407.6" stroke="#121212" stroke-width="4.5" stroke-linecap="butt"/>
<line x1="913" y1="1407.6" x2="913" y2="1417.5" stroke="#121212" stroke-width="4.5" stroke-linecap="butt"/>
<line x1="1024.6" y1="1407.6" x2="1024.6" y2="1417.5" stroke="#121212" stroke-width="4.5" stroke-linecap="butt"/>
<line x1="1136.6" y1="1407.6" x2="1136.6" y2="1417.5" stroke="#121212" stroke-width="4.5" stroke-linecap="butt"/>
<line x1="1248.9" y1="1407.6" x2="1248.9" y2="1417.5" stroke="#121212" stroke-width="4.5" stroke-linecap="butt"/>
<text font-size="31.2" text-anchor="middle" transform="translate(913,1448.5) scale(1,1.05)" >0%</text>
<text font-size="31.2" text-anchor="middle" transform="translate(1024.6,1448.5) scale(1,1.05)" >3%</text>
<text font-size="31.2" text-anchor="middle" transform="translate(1136.6,1448.5) scale(1,1.05)" >6%</text>
<text font-size="31.2" text-anchor="middle" transform="translate(1248.9,1448.5) scale(1,1.05)" >9%</text>
<text font-size="30" text-anchor="middle" transform="translate(1082.2,1497.9) scale(1,1.08)" >concentrations(v/v%)</text>
<text font-size="30" text-anchor="middle" transform="translate(768.2,1191) rotate(-90) scale(1,1.08)">Ethanol preference ratio (%)</text>
<line x1="1095.1" y1="1051.4" x2="1305.2" y2="1051.4" stroke="#4a5fa2" stroke-width="13.6" stroke-linecap="round"/>
<text font-size="30" text-anchor="middle" transform="translate(1207,1033.8) scale(1,1.08)" >Dox diet</text>
<rect x="871.5" y="1165.4" width="37.6" height="241.6" fill="#bfb8bb" stroke="#121212" stroke-width="3"/>
<rect x="917.5" y="1170.8" width="37.4" height="236.2" fill="#7282ba" stroke="#121212" stroke-width="3"/>
<rect x="983.5" y="1259.5" width="36.4" height="147.5" fill="#bfb8bb" stroke="#121212" stroke-width="3"/>
<rect x="1029.1" y="1247.8" width="37.6" height="159.2" fill="#7282ba" stroke="#121212" stroke-width="3"/>
<rect x="1095.5" y="1274.1" width="37.1" height="132.9" fill="#bfb8bb" stroke="#121212" stroke-width="3"/>
<rect x="1141.4" y="1314.1" width="37.1" height="92.9" fill="#7282ba" stroke="#121212" stroke-width="3"/>
<rect x="1207.8" y="1282.1" width="37" height="124.9" fill="#bfb8bb" stroke="#121212" stroke-width="3"/>
<rect x="1253.9" y="1326.7" width="37.3" height="80.3" fill="#7282ba" stroke="#121212" stroke-width="3"/>
<circle cx="890.5" cy="1084.2" r="5.6" fill="#bfb8bb" stroke="#121212" stroke-width="2.8"/>
<circle cx="876" cy="1124.2" r="5.6" fill="#bfb8bb" stroke="#121212" stroke-width="2.8"/>
<circle cx="906.1" cy="1127.8" r="5.6" fill="#bfb8bb" stroke="#121212" stroke-width="2.8"/>
<circle cx="890.5" cy="1175.3" r="5.6" fill="#bfb8bb" stroke="#121212" stroke-width="2.8"/>
<circle cx="876" cy="1188" r="5.6" fill="#bfb8bb" stroke="#121212" stroke-width="2.8"/>
<circle cx="906.1" cy="1188" r="5.6" fill="#bfb8bb" stroke="#121212" stroke-width="2.8"/>
<circle cx="890.5" cy="1203" r="5.6" fill="#bfb8bb" stroke="#121212" stroke-width="2.8"/>
<circle cx="890.5" cy="1217.5" r="5.6" fill="#bfb8bb" stroke="#121212" stroke-width="2.8"/>
<circle cx="936.8" cy="1114.2" r="5.6" fill="#7282ba" stroke="#121212" stroke-width="2.8"/>
<circle cx="936.8" cy="1136.8" r="5.6" fill="#7282ba" stroke="#121212" stroke-width="2.8"/>
<circle cx="921.8" cy="1154.9" r="5.6" fill="#7282ba" stroke="#121212" stroke-width="2.8"/>
<circle cx="952.1" cy="1149.4" r="5.6" fill="#7282ba" stroke="#121212" stroke-width="2.8"/>
<circle cx="936.8" cy="1172.9" r="5.6" fill="#7282ba" stroke="#121212" stroke-width="2.8"/>
<circle cx="921.8" cy="1189.5" r="5.6" fill="#7282ba" stroke="#121212" stroke-width="2.8"/>
<circle cx="952.1" cy="1194" r="5.6" fill="#7282ba" stroke="#121212" stroke-width="2.8"/>
<circle cx="936.8" cy="1238.5" r="5.6" fill="#7282ba" stroke="#121212" stroke-width="2.8"/>
<circle cx="987.1" cy="1238" r="5.6" fill="#bfb8bb" stroke="#121212" stroke-width="2.8"/>
<circle cx="997.1" cy="1245" r="5.6" fill="#bfb8bb" stroke="#121212" stroke-width="2.8"/>
<circle cx="1007.1" cy="1241" r="5.6" fill="#bfb8bb" stroke="#121212" stroke-width="2.8"/>
<circle cx="987.1" cy="1258.8" r="5.6" fill="#bfb8bb" stroke="#121212" stroke-width="2.8"/>
<circle cx="997.1" cy="1258" r="5.6" fill="#bfb8bb" stroke="#121212" stroke-width="2.8"/>
<circle cx="1017.1" cy="1258.8" r="5.6" fill="#bfb8bb" stroke="#121212" stroke-width="2.8"/>
<circle cx="1007.1" cy="1268.8" r="5.6" fill="#bfb8bb" stroke="#121212" stroke-width="2.8"/>
<circle cx="997.1" cy="1272.6" r="5.6" fill="#bfb8bb" stroke="#121212" stroke-width="2.8"/>
<circle cx="1047.7" cy="1155.8" r="5.6" fill="#7282ba" stroke="#121212" stroke-width="2.8"/>
<circle cx="1047.7" cy="1197.9" r="5.6" fill="#7282ba" stroke="#121212" stroke-width="2.8"/>
<circle cx="1047.7" cy="1230.5" r="5.6" fill="#7282ba" stroke="#121212" stroke-width="2.8"/>
<circle cx="1032.7" cy="1247.5" r="5.6" fill="#7282ba" stroke="#121212" stroke-width="2.8"/>
<circle cx="1062.7" cy="1253" r="5.6" fill="#7282ba" stroke="#121212" stroke-width="2.8"/>
<circle cx="1032.7" cy="1280.1" r="5.6" fill="#7282ba" stroke="#121212" stroke-width="2.8"/>
<circle cx="1062.7" cy="1285.6" r="5.6" fill="#7282ba" stroke="#121212" stroke-width="2.8"/>
<circle cx="1047.7" cy="1314.4" r="5.6" fill="#7282ba" stroke="#121212" stroke-width="2.8"/>
<circle cx="1099" cy="1261.8" r="5.6" fill="#bfb8bb" stroke="#121212" stroke-width="2.8"/>
<circle cx="1114.1" cy="1258" r="5.6" fill="#bfb8bb" stroke="#121212" stroke-width="2.8"/>
<circle cx="1129.9" cy="1266.8" r="5.6" fill="#bfb8bb" stroke="#121212" stroke-width="2.8"/>
<circle cx="1099" cy="1276.8" r="5.6" fill="#bfb8bb" stroke="#121212" stroke-width="2.8"/>
<circle cx="1114.1" cy="1280.6" r="5.6" fill="#bfb8bb" stroke="#121212" stroke-width="2.8"/>
<circle cx="1129.9" cy="1279.8" r="5.6" fill="#bfb8bb" stroke="#121212" stroke-width="2.8"/>
<circle cx="1106.6" cy="1303.1" r="5.6" fill="#bfb8bb" stroke="#121212" stroke-width="2.8"/>
<circle cx="1121.6" cy="1299.4" r="5.6" fill="#bfb8bb" stroke="#121212" stroke-width="2.8"/>
<circle cx="1144.9" cy="1276.8" r="5.6" fill="#7282ba" stroke="#121212" stroke-width="2.8"/>
<circle cx="1174.9" cy="1281.1" r="5.6" fill="#7282ba" stroke="#121212" stroke-width="2.8"/>
<circle cx="1159.9" cy="1288.1" r="5.6" fill="#7282ba" stroke="#121212" stroke-width="2.8"/>
<circle cx="1159.9" cy="1314.4" r="5.6" fill="#7282ba" stroke="#121212" stroke-width="2.8"/>
<circle cx="1144.9" cy="1325.2" r="5.6" fill="#7282ba" stroke="#121212" stroke-width="2.8"/>
<circle cx="1174.9" cy="1326.2" r="5.6" fill="#7282ba" stroke="#121212" stroke-width="2.8"/>
<circle cx="1152.4" cy="1340.7" r="5.6" fill="#7282ba" stroke="#121212" stroke-width="2.8"/>
<circle cx="1167.4" cy="1340.7" r="5.6" fill="#7282ba" stroke="#121212" stroke-width="2.8"/>
<circle cx="1226.3" cy="1236" r="5.6" fill="#bfb8bb" stroke="#121212" stroke-width="2.8"/>
<circle cx="1234.3" cy="1261.3" r="5.6" fill="#bfb8bb" stroke="#121212" stroke-width="2.8"/>
<circle cx="1226.3" cy="1267.6" r="5.6" fill="#bfb8bb" stroke="#121212" stroke-width="2.8"/>
<circle cx="1211.3" cy="1295.6" r="5.6" fill="#bfb8bb" stroke="#121212" stroke-width="2.8"/>
<circle cx="1218.8" cy="1290.1" r="5.6" fill="#bfb8bb" stroke="#121212" stroke-width="2.8"/>
<circle cx="1226.3" cy="1293.1" r="5.6" fill="#bfb8bb" stroke="#121212" stroke-width="2.8"/>
<circle cx="1234.3" cy="1291.9" r="5.6" fill="#bfb8bb" stroke="#121212" stroke-width="2.8"/>
<circle cx="1241.3" cy="1299.4" r="5.6" fill="#bfb8bb" stroke="#121212" stroke-width="2.8"/>
<circle cx="1271.4" cy="1267.6" r="5.6" fill="#7282ba" stroke="#121212" stroke-width="2.8"/>
<circle cx="1256.4" cy="1314.4" r="5.6" fill="#7282ba" stroke="#121212" stroke-width="2.8"/>
<circle cx="1276.9" cy="1316.9" r="5.6" fill="#7282ba" stroke="#121212" stroke-width="2.8"/>
<circle cx="1266.9" cy="1320.7" r="5.6" fill="#7282ba" stroke="#121212" stroke-width="2.8"/>
<circle cx="1287.7" cy="1321.9" r="5.6" fill="#7282ba" stroke="#121212" stroke-width="2.8"/>
<circle cx="1266.9" cy="1332.7" r="5.6" fill="#7282ba" stroke="#121212" stroke-width="2.8"/>
<circle cx="1276.9" cy="1338.2" r="5.6" fill="#7282ba" stroke="#121212" stroke-width="2.8"/>
<circle cx="1271.4" cy="1389.6" r="5.6" fill="#7282ba" stroke="#121212" stroke-width="2.8"/>
<text x="1238.6" y="1216.7" font-size="46" text-anchor="start" letter-spacing="2.9">**</text>
<line x1="147.1" y1="1643.05" x2="147.1" y2="2093.55" stroke="#121212" stroke-width="4.5" stroke-linecap="butt"/>
<line x1="130.3" y1="2091.3" x2="147.1" y2="2091.3" stroke="#121212" stroke-width="4.5" stroke-linecap="butt"/>
<line x1="130.3" y1="1942.47" x2="147.1" y2="1942.47" stroke="#121212" stroke-width="4.5" stroke-linecap="butt"/>
<line x1="130.3" y1="1793.63" x2="147.1" y2="1793.63" stroke="#121212" stroke-width="4.5" stroke-linecap="butt"/>
<line x1="130.3" y1="1644.8" x2="147.1" y2="1644.8" stroke="#121212" stroke-width="4.5" stroke-linecap="butt"/>
<line x1="137.5" y1="2061.53" x2="147.1" y2="2061.53" stroke="#121212" stroke-width="4.5" stroke-linecap="butt"/>
<line x1="137.5" y1="2031.77" x2="147.1" y2="2031.77" stroke="#121212" stroke-width="4.5" stroke-linecap="butt"/>
<line x1="137.5" y1="2002" x2="147.1" y2="2002" stroke="#121212" stroke-width="4.5" stroke-linecap="butt"/>
<line x1="137.5" y1="1972.23" x2="147.1" y2="1972.23" stroke="#121212" stroke-width="4.5" stroke-linecap="butt"/>
<line x1="137.5" y1="1912.7" x2="147.1" y2="1912.7" stroke="#121212" stroke-width="4.5" stroke-linecap="butt"/>
<line x1="137.5" y1="1882.93" x2="147.1" y2="1882.93" stroke="#121212" stroke-width="4.5" stroke-linecap="butt"/>
<line x1="137.5" y1="1853.17" x2="147.1" y2="1853.17" stroke="#121212" stroke-width="4.5" stroke-linecap="butt"/>
<line x1="137.5" y1="1823.4" x2="147.1" y2="1823.4" stroke="#121212" stroke-width="4.5" stroke-linecap="butt"/>
<line x1="137.5" y1="1763.87" x2="147.1" y2="1763.87" stroke="#121212" stroke-width="4.5" stroke-linecap="butt"/>
<line x1="137.5" y1="1734.1" x2="147.1" y2="1734.1" stroke="#121212" stroke-width="4.5" stroke-linecap="butt"/>
<line x1="137.5" y1="1704.33" x2="147.1" y2="1704.33" stroke="#121212" stroke-width="4.5" stroke-linecap="butt"/>
<line x1="137.5" y1="1674.57" x2="147.1" y2="1674.57" stroke="#121212" stroke-width="4.5" stroke-linecap="butt"/>
<text font-size="31.2" text-anchor="end" transform="translate(126.5,2101.3) scale(1,1.05)" >0.0</text>
<text font-size="31.2" text-anchor="end" transform="translate(126.5,1952.47) scale(1,1.05)" >5.0</text>
<g transform="translate(126.5,1803.63) scale(1,1.05)"><text id="t1_9" font-size="31.2" text-anchor="end" ><tspan class="h1">1</tspan>0.0</text><path class="one" d="M812,0 L531,0 L531,1059 Q377,915 168,846 L168,1101 Q278,1137 407,1237 Q536,1337 584,1466 L812,1466 Z" transform="translate(-60.70,0) scale(0.01523,-0.01523)"/></g>
<g transform="translate(126.5,1654.8) scale(1,1.05)"><text id="t1_10" font-size="31.2" text-anchor="end" ><tspan class="h1">1</tspan>5.0</text><path class="one" d="M812,0 L531,0 L531,1059 Q377,915 168,846 L168,1101 Q278,1137 407,1237 Q536,1337 584,1466 L812,1466 Z" transform="translate(-60.70,0) scale(0.01523,-0.01523)"/></g>
<line x1="144.85" y1="2091.3" x2="592" y2="2091.3" stroke="#121212" stroke-width="4.5" stroke-linecap="butt"/>
<line x1="217.8" y1="2091.3" x2="217.8" y2="2102" stroke="#121212" stroke-width="4.5" stroke-linecap="butt"/>
<line x1="367.9" y1="2091.3" x2="367.9" y2="2102" stroke="#121212" stroke-width="4.5" stroke-linecap="butt"/>
<line x1="518.4" y1="2091.3" x2="518.4" y2="2102" stroke="#121212" stroke-width="4.5" stroke-linecap="butt"/>
<text font-size="31.2" text-anchor="middle" transform="translate(217.8,2132.1) scale(1,1.05)" >0%</text>
<text font-size="31.2" text-anchor="middle" transform="translate(367.9,2132.1) scale(1,1.05)" >0.06%</text>
<g transform="translate(518.4,2132.1) scale(1,1.05)"><text id="t1_11" font-size="31.2" text-anchor="middle" >0.<tspan class="h1">1</tspan>2%</text><path class="one" d="M812,0 L531,0 L531,1059 Q377,915 168,846 L168,1101 Q278,1137 407,1237 Q536,1337 584,1466 L812,1466 Z" transform="translate(-18.20,0) scale(0.01523,-0.01523)"/></g>
<text font-size="30" text-anchor="middle" transform="translate(370,2184) scale(1,1.08)" >concentrations (w/v%)</text>
<text font-size="30" text-anchor="middle" transform="translate(38.3,1875.1) rotate(-90) scale(1,1.08)">Saccharin solution consumption (ml)</text>
<rect x="163.3" y="1617.5" width="58.4" height="11.4" fill="#bfb8bb" stroke="#121212" stroke-width="3"/>
<rect x="163.3" y="1651.1" width="58.4" height="11.4" fill="#7282ba" stroke="#121212" stroke-width="3"/>
<text font-size="30" text-anchor="start" transform="translate(256.8,1632.7) scale(1,1.08)" >GWT</text>
<g transform="translate(256.8,1666.6) scale(1,1.08)"><text id="t1_12" font-size="30" text-anchor="start" >GGLP<tspan class="h1">1</tspan></text><path class="one" d="M812,0 L531,0 L531,1059 Q377,915 168,846 L168,1101 Q278,1137 407,1237 Q536,1337 584,1466 L812,1466 Z" transform="translate(85.00,0) scale(0.01465,-0.01465)"/></g>
<line x1="303.65" y1="1706.7" x2="576.65" y2="1706.7" stroke="#4a5fa2" stroke-width="13.5" stroke-linecap="round"/>
<text font-size="30" text-anchor="middle" transform="translate(441.7,1688) scale(1,1.08)" >Dox diet</text>
<rect x="163.3" y="2028.9" width="52" height="62.2" fill="#bfb8bb" stroke="#121212" stroke-width="3"/>
<rect x="224.1" y="2028.2" width="52" height="62.9" fill="#7282ba" stroke="#121212" stroke-width="3"/>
<rect x="312.8" y="1907.2" width="51.4" height="183.9" fill="#bfb8bb" stroke="#121212" stroke-width="3"/>
<rect x="374.2" y="1899.2" width="51.4" height="191.9" fill="#7282ba" stroke="#121212" stroke-width="3"/>
<rect x="463.2" y="1826.5" width="50.8" height="264.6" fill="#bfb8bb" stroke="#121212" stroke-width="3"/>
<rect x="524.7" y="1829.7" width="50.8" height="261.4" fill="#7282ba" stroke="#121212" stroke-width="3"/>
<circle cx="177.8" cy="2001.7" r="5.6" fill="#bfb8bb" stroke="#121212" stroke-width="2.8"/>
<circle cx="199.2" cy="2009.1" r="5.6" fill="#bfb8bb" stroke="#121212" stroke-width="2.8"/>
<circle cx="188.7" cy="2016.8" r="5.6" fill="#bfb8bb" stroke="#121212" stroke-width="2.8"/>
<circle cx="177.8" cy="2032.8" r="5.6" fill="#bfb8bb" stroke="#121212" stroke-width="2.8"/>
<circle cx="188.7" cy="2035.4" r="5.6" fill="#bfb8bb" stroke="#121212" stroke-width="2.8"/>
<circle cx="199.2" cy="2032.8" r="5.6" fill="#bfb8bb" stroke="#121212" stroke-width="2.8"/>
<circle cx="167.2" cy="2041.8" r="5.6" fill="#bfb8bb" stroke="#121212" stroke-width="2.8"/>
<circle cx="211.1" cy="2041.8" r="5.6" fill="#bfb8bb" stroke="#121212" stroke-width="2.8"/>
<circle cx="249.8" cy="2001.7" r="5.6" fill="#7282ba" stroke="#121212" stroke-width="2.8"/>
<circle cx="271.9" cy="2017.7" r="5.6" fill="#7282ba" stroke="#121212" stroke-width="2.8"/>
<circle cx="257.8" cy="2020.3" r="5.6" fill="#7282ba" stroke="#121212" stroke-width="2.8"/>
<circle cx="228" cy="2025.8" r="5.6" fill="#7282ba" stroke="#121212" stroke-width="2.8"/>
<circle cx="242.4" cy="2032.8" r="5.6" fill="#7282ba" stroke="#121212" stroke-width="2.8"/>
<circle cx="271.9" cy="2035.4" r="5.6" fill="#7282ba" stroke="#121212" stroke-width="2.8"/>
<circle cx="228" cy="2037.9" r="5.6" fill="#7282ba" stroke="#121212" stroke-width="2.8"/>
<circle cx="257.8" cy="2037.9" r="5.6" fill="#7282ba" stroke="#121212" stroke-width="2.8"/>
<circle cx="316.7" cy="1881.7" r="5.6" fill="#bfb8bb" stroke="#121212" stroke-width="2.8"/>
<circle cx="338.5" cy="1881.1" r="5.6" fill="#bfb8bb" stroke="#121212" stroke-width="2.8"/>
<circle cx="360.9" cy="1884.3" r="5.6" fill="#bfb8bb" stroke="#121212" stroke-width="2.8"/>
<circle cx="360.9" cy="1905.7" r="5.6" fill="#bfb8bb" stroke="#121212" stroke-width="2.8"/>
<circle cx="316.7" cy="1914.4" r="5.6" fill="#bfb8bb" stroke="#121212" stroke-width="2.8"/>
<circle cx="338.5" cy="1919.5" r="5.6" fill="#bfb8bb" stroke="#121212" stroke-width="2.8"/>
<circle cx="360.9" cy="1923.3" r="5.6" fill="#bfb8bb" stroke="#121212" stroke-width="2.8"/>
<circle cx="316.7" cy="1931.3" r="5.6" fill="#bfb8bb" stroke="#121212" stroke-width="2.8"/>
<circle cx="399.9" cy="1848.7" r="5.6" fill="#7282ba" stroke="#121212" stroke-width="2.8"/>
<circle cx="388.1" cy="1875.3" r="5.6" fill="#7282ba" stroke="#121212" stroke-width="2.8"/>
<circle cx="411.5" cy="1875.3" r="5.6" fill="#7282ba" stroke="#121212" stroke-width="2.8"/>
<circle cx="399.9" cy="1892.9" r="5.6" fill="#7282ba" stroke="#121212" stroke-width="2.8"/>
<circle cx="388.1" cy="1914.4" r="5.6" fill="#7282ba" stroke="#121212" stroke-width="2.8"/>
<circle cx="411.5" cy="1910.5" r="5.6" fill="#7282ba" stroke="#121212" stroke-width="2.8"/>
<circle cx="411.5" cy="1925.9" r="5.6" fill="#7282ba" stroke="#121212" stroke-width="2.8"/>
<circle cx="388.1" cy="1932.3" r="5.6" fill="#7282ba" stroke="#121212" stroke-width="2.8"/>
<circle cx="476.8" cy="1756.9" r="5.6" fill="#bfb8bb" stroke="#121212" stroke-width="2.8"/>
<circle cx="499.5" cy="1759.1" r="5.6" fill="#bfb8bb" stroke="#121212" stroke-width="2.8"/>
<circle cx="488.9" cy="1794.6" r="5.6" fill="#bfb8bb" stroke="#121212" stroke-width="2.8"/>
<circle cx="488.9" cy="1820.9" r="5.6" fill="#bfb8bb" stroke="#121212" stroke-width="2.8"/>
<circle cx="488.9" cy="1845.8" r="5.6" fill="#bfb8bb" stroke="#121212" stroke-width="2.8"/>
<circle cx="476.8" cy="1863.5" r="5.6" fill="#bfb8bb" stroke="#121212" stroke-width="2.8"/>
<circle cx="500.1" cy="1872.7" r="5.6" fill="#bfb8bb" stroke="#121212" stroke-width="2.8"/>
<circle cx="476.8" cy="1877.9" r="5.6" fill="#bfb8bb" stroke="#121212" stroke-width="2.8"/>
<circle cx="550.4" cy="1761.7" r="5.6" fill="#7282ba" stroke="#121212" stroke-width="2.8"/>
<circle cx="550.4" cy="1783.1" r="5.6" fill="#7282ba" stroke="#121212" stroke-width="2.8"/>
<circle cx="561.9" cy="1803.3" r="5.6" fill="#7282ba" stroke="#121212" stroke-width="2.8"/>
<circle cx="538.5" cy="1812.9" r="5.6" fill="#7282ba" stroke="#121212" stroke-width="2.8"/>
<circle cx="538.5" cy="1855.1" r="5.6" fill="#7282ba" stroke="#121212" stroke-width="2.8"/>
<circle cx="561.9" cy="1851.9" r="5.6" fill="#7282ba" stroke="#121212" stroke-width="2.8"/>
<circle cx="561.9" cy="1868.9" r="5.6" fill="#7282ba" stroke="#121212" stroke-width="2.8"/>
<circle cx="538.5" cy="1878.5" r="5.6" fill="#7282ba" stroke="#121212" stroke-width="2.8"/>
<line x1="862.8" y1="1644.85" x2="862.8" y2="2095.35" stroke="#121212" stroke-width="4.5" stroke-linecap="butt"/>
<line x1="845.7" y1="2093.1" x2="862.8" y2="2093.1" stroke="#121212" stroke-width="4.5" stroke-linecap="butt"/>
<line x1="845.7" y1="1944.27" x2="862.8" y2="1944.27" stroke="#121212" stroke-width="4.5" stroke-linecap="butt"/>
<line x1="845.7" y1="1795.43" x2="862.8" y2="1795.43" stroke="#121212" stroke-width="4.5" stroke-linecap="butt"/>
<line x1="845.7" y1="1646.6" x2="862.8" y2="1646.6" stroke="#121212" stroke-width="4.5" stroke-linecap="butt"/>
<line x1="852.5" y1="2063.33" x2="862.8" y2="2063.33" stroke="#121212" stroke-width="4.5" stroke-linecap="butt"/>
<line x1="852.5" y1="2033.57" x2="862.8" y2="2033.57" stroke="#121212" stroke-width="4.5" stroke-linecap="butt"/>
<line x1="852.5" y1="2003.8" x2="862.8" y2="2003.8" stroke="#121212" stroke-width="4.5" stroke-linecap="butt"/>
<line x1="852.5" y1="1974.03" x2="862.8" y2="1974.03" stroke="#121212" stroke-width="4.5" stroke-linecap="butt"/>
<line x1="852.5" y1="1914.5" x2="862.8" y2="1914.5" stroke="#121212" stroke-width="4.5" stroke-linecap="butt"/>
<line x1="852.5" y1="1884.73" x2="862.8" y2="1884.73" stroke="#121212" stroke-width="4.5" stroke-linecap="butt"/>
<line x1="852.5" y1="1854.97" x2="862.8" y2="1854.97" stroke="#121212" stroke-width="4.5" stroke-linecap="butt"/>
<line x1="852.5" y1="1825.2" x2="862.8" y2="1825.2" stroke="#121212" stroke-width="4.5" stroke-linecap="butt"/>
<line x1="852.5" y1="1765.67" x2="862.8" y2="1765.67" stroke="#121212" stroke-width="4.5" stroke-linecap="butt"/>
<line x1="852.5" y1="1735.9" x2="862.8" y2="1735.9" stroke="#121212" stroke-width="4.5" stroke-linecap="butt"/>
<line x1="852.5" y1="1706.13" x2="862.8" y2="1706.13" stroke="#121212" stroke-width="4.5" stroke-linecap="butt"/>
<line x1="852.5" y1="1676.37" x2="862.8" y2="1676.37" stroke="#121212" stroke-width="4.5" stroke-linecap="butt"/>
<text font-size="31.2" text-anchor="end" transform="translate(842.3,2103.1) scale(1,1.05)" >0.0</text>
<text font-size="31.2" text-anchor="end" transform="translate(842.3,1954.27) scale(1,1.05)" >50.0</text>
<g transform="translate(842.3,1805.43) scale(1,1.05)"><text id="t1_13" font-size="31.2" text-anchor="end" ><tspan class="h1">1</tspan>00.0</text><path class="one" d="M812,0 L531,0 L531,1059 Q377,915 168,846 L168,1101 Q278,1137 407,1237 Q536,1337 584,1466 L812,1466 Z" transform="translate(-78.04,0) scale(0.01523,-0.01523)"/></g>
<g transform="translate(842.3,1656.6) scale(1,1.05)"><text id="t1_14" font-size="31.2" text-anchor="end" ><tspan class="h1">1</tspan>50.0</text><path class="one" d="M812,0 L531,0 L531,1059 Q377,915 168,846 L168,1101 Q278,1137 407,1237 Q536,1337 584,1466 L812,1466 Z" transform="translate(-78.04,0) scale(0.01523,-0.01523)"/></g>
<line x1="860.55" y1="2093.1" x2="1307" y2="2093.1" stroke="#121212" stroke-width="4.5" stroke-linecap="butt"/>
<line x1="934.2" y1="2093.1" x2="934.2" y2="2102" stroke="#121212" stroke-width="4.5" stroke-linecap="butt"/>
<line x1="1084.2" y1="2093.1" x2="1084.2" y2="2102" stroke="#121212" stroke-width="4.5" stroke-linecap="butt"/>
<line x1="1233.7" y1="2093.1" x2="1233.7" y2="2102" stroke="#121212" stroke-width="4.5" stroke-linecap="butt"/>
<text font-size="31.2" text-anchor="middle" transform="translate(934.2,2132.8) scale(1,1.05)" >0%</text>
<text font-size="31.2" text-anchor="middle" transform="translate(1084.2,2132.8) scale(1,1.05)" >0.06%</text>
<g transform="translate(1233.7,2132.8) scale(1,1.05)"><text id="t1_15" font-size="31.2" text-anchor="middle" >0.<tspan class="h1">1</tspan>2%</text><path class="one" d="M812,0 L531,0 L531,1059 Q377,915 168,846 L168,1101 Q278,1137 407,1237 Q536,1337 584,1466 L812,1466 Z" transform="translate(-18.20,0) scale(0.01523,-0.01523)"/></g>
<text font-size="30" text-anchor="middle" transform="translate(1085.8,2182.9) scale(1,1.08)" >concentrations (w/v%)</text>
<text font-size="30" text-anchor="middle" transform="translate(735,1876.1) rotate(-90) scale(1,1.08)">Saccharin preference ratio (%)</text>
<line x1="1025.15" y1="1712.4" x2="1297.45" y2="1712.4" stroke="#4a5fa2" stroke-width="13.5" stroke-linecap="round"/>
<text font-size="30" text-anchor="middle" transform="translate(1165.6,1695.8) scale(1,1.08)" >Dox diet</text>
<rect x="879.5" y="1945.7" width="50.6" height="147" fill="#bfb8bb" stroke="#121212" stroke-width="3"/>
<rect x="940.7" y="1938.7" width="50.9" height="154" fill="#7282ba" stroke="#121212" stroke-width="3"/>
<rect x="1028.9" y="1847.6" width="50.7" height="245.1" fill="#bfb8bb" stroke="#121212" stroke-width="3"/>
<rect x="1090.4" y="1845.7" width="49.5" height="247" fill="#7282ba" stroke="#121212" stroke-width="3"/>
<rect x="1178.4" y="1834.6" width="51" height="258.1" fill="#bfb8bb" stroke="#121212" stroke-width="3"/>
<rect x="1240.4" y="1831" width="50.5" height="261.7" fill="#7282ba" stroke="#121212" stroke-width="3"/>
<circle cx="905" cy="1890.3" r="5.6" fill="#bfb8bb" stroke="#121212" stroke-width="2.8"/>
<circle cx="905" cy="1906.9" r="5.6" fill="#bfb8bb" stroke="#121212" stroke-width="2.8"/>
<circle cx="905" cy="1919" r="5.6" fill="#bfb8bb" stroke="#121212" stroke-width="2.8"/>
<circle cx="883.2" cy="1958.4" r="5.6" fill="#bfb8bb" stroke="#121212" stroke-width="2.8"/>
<circle cx="905" cy="1955.4" r="5.6" fill="#bfb8bb" stroke="#121212" stroke-width="2.8"/>
<circle cx="926.5" cy="1958.4" r="5.6" fill="#bfb8bb" stroke="#121212" stroke-width="2.8"/>
<circle cx="905" cy="1972.6" r="5.6" fill="#bfb8bb" stroke="#121212" stroke-width="2.8"/>
<circle cx="905" cy="1985.6" r="5.6" fill="#bfb8bb" stroke="#121212" stroke-width="2.8"/>
<circle cx="965.5" cy="1881.2" r="5.6" fill="#7282ba" stroke="#121212" stroke-width="2.8"/>
<circle cx="943.7" cy="1923.6" r="5.6" fill="#7282ba" stroke="#121212" stroke-width="2.8"/>
<circle cx="965.5" cy="1929" r="5.6" fill="#7282ba" stroke="#121212" stroke-width="2.8"/>
<circle cx="943.7" cy="1937.8" r="5.6" fill="#7282ba" stroke="#121212" stroke-width="2.8"/>
<circle cx="988.5" cy="1938.1" r="5.6" fill="#7282ba" stroke="#121212" stroke-width="2.8"/>
<circle cx="965.5" cy="1952.3" r="5.6" fill="#7282ba" stroke="#121212" stroke-width="2.8"/>
<circle cx="943.7" cy="1963" r="5.6" fill="#7282ba" stroke="#121212" stroke-width="2.8"/>
<circle cx="988.5" cy="1963" r="5.6" fill="#7282ba" stroke="#121212" stroke-width="2.8"/>
<circle cx="1053.9" cy="1826" r="5.6" fill="#bfb8bb" stroke="#121212" stroke-width="2.8"/>
<circle cx="1043.2" cy="1831.9" r="5.6" fill="#bfb8bb" stroke="#121212" stroke-width="2.8"/>
<circle cx="1032.1" cy="1842.5" r="5.6" fill="#bfb8bb" stroke="#121212" stroke-width="2.8"/>
<circle cx="1053.9" cy="1847.2" r="5.6" fill="#bfb8bb" stroke="#121212" stroke-width="2.8"/>
<circle cx="1043.2" cy="1850.3" r="5.6" fill="#bfb8bb" stroke="#121212" stroke-width="2.8"/>
<circle cx="1065.2" cy="1853.9" r="5.6" fill="#bfb8bb" stroke="#121212" stroke-width="2.8"/>
<circle cx="1077.1" cy="1848.4" r="5.6" fill="#bfb8bb" stroke="#121212" stroke-width="2.8"/>
<circle cx="1053.9" cy="1869.7" r="5.6" fill="#bfb8bb" stroke="#121212" stroke-width="2.8"/>
<circle cx="1093.4" cy="1827.6" r="5.6" fill="#7282ba" stroke="#121212" stroke-width="2.8"/>
<circle cx="1107.8" cy="1830.7" r="5.6" fill="#7282ba" stroke="#121212" stroke-width="2.8"/>
<circle cx="1122.5" cy="1827.6" r="5.6" fill="#7282ba" stroke="#121212" stroke-width="2.8"/>
<circle cx="1137.9" cy="1834.7" r="5.6" fill="#7282ba" stroke="#121212" stroke-width="2.8"/>
<circle cx="1122.5" cy="1840.9" r="5.6" fill="#7282ba" stroke="#121212" stroke-width="2.8"/>
<circle cx="1107.8" cy="1854.8" r="5.6" fill="#7282ba" stroke="#121212" stroke-width="2.8"/>
<circle cx="1122.5" cy="1855.5" r="5.6" fill="#7282ba" stroke="#121212" stroke-width="2.8"/>
<circle cx="1115.4" cy="1869.7" r="5.6" fill="#7282ba" stroke="#121212" stroke-width="2.8"/>
<circle cx="1226.1" cy="1805.8" r="5.6" fill="#bfb8bb" stroke="#121212" stroke-width="2.8"/>
<circle cx="1204.1" cy="1814.8" r="5.6" fill="#bfb8bb" stroke="#121212" stroke-width="2.8"/>
<circle cx="1226.1" cy="1825.2" r="5.6" fill="#bfb8bb" stroke="#121212" stroke-width="2.8"/>
<circle cx="1182.8" cy="1834.7" r="5.6" fill="#bfb8bb" stroke="#121212" stroke-width="2.8"/>
<circle cx="1204.1" cy="1831.9" r="5.6" fill="#bfb8bb" stroke="#121212" stroke-width="2.8"/>
<circle cx="1226.1" cy="1841.3" r="5.6" fill="#bfb8bb" stroke="#121212" stroke-width="2.8"/>
<circle cx="1204.1" cy="1845.4" r="5.6" fill="#bfb8bb" stroke="#121212" stroke-width="2.8"/>
<circle cx="1204.1" cy="1857.4" r="5.6" fill="#bfb8bb" stroke="#121212" stroke-width="2.8"/>
<circle cx="1243.9" cy="1813.4" r="5.6" fill="#7282ba" stroke="#121212" stroke-width="2.8"/>
<circle cx="1258.5" cy="1818.9" r="5.6" fill="#7282ba" stroke="#121212" stroke-width="2.8"/>
<circle cx="1272.7" cy="1816.5" r="5.6" fill="#7282ba" stroke="#121212" stroke-width="2.8"/>
<circle cx="1287.6" cy="1821.9" r="5.6" fill="#7282ba" stroke="#121212" stroke-width="2.8"/>
<circle cx="1258.5" cy="1834.9" r="5.6" fill="#7282ba" stroke="#121212" stroke-width="2.8"/>
<circle cx="1272.7" cy="1830.7" r="5.6" fill="#7282ba" stroke="#121212" stroke-width="2.8"/>
<circle cx="1287.6" cy="1836.1" r="5.6" fill="#7282ba" stroke="#121212" stroke-width="2.8"/>
<circle cx="1265.6" cy="1858.6" r="5.6" fill="#7282ba" stroke="#121212" stroke-width="2.8"/>
<line x1="215" y1="585.8" x2="215" y2="576.7" stroke="#121212" stroke-width="2.5" stroke-linecap="butt"/>
<line x1="193.75" y1="576.7" x2="236.25" y2="576.7" stroke="#121212" stroke-width="2.5" stroke-linecap="round"/>
<line x1="215" y1="585.8" x2="215" y2="597.5" stroke="#121212" stroke-width="2.5" stroke-linecap="butt"/>
<line x1="193.75" y1="597.5" x2="236.25" y2="597.5" stroke="#121212" stroke-width="2.5" stroke-linecap="round"/>
<line x1="310.7" y1="578.1" x2="310.7" y2="566" stroke="#121212" stroke-width="2.5" stroke-linecap="butt"/>
<line x1="289.45" y1="566" x2="331.95" y2="566" stroke="#121212" stroke-width="2.5" stroke-linecap="round"/>
<line x1="310.7" y1="578.1" x2="310.7" y2="592.3" stroke="#121212" stroke-width="2.5" stroke-linecap="butt"/>
<line x1="289.45" y1="592.3" x2="331.95" y2="592.3" stroke="#121212" stroke-width="2.5" stroke-linecap="round"/>
<line x1="432.3" y1="446.2" x2="432.3" y2="422.2" stroke="#121212" stroke-width="2.5" stroke-linecap="butt"/>
<line x1="410.55" y1="422.2" x2="454.05" y2="422.2" stroke="#121212" stroke-width="2.5" stroke-linecap="round"/>
<line x1="528.7" y1="544.2" x2="528.7" y2="519.8" stroke="#121212" stroke-width="2.5" stroke-linecap="butt"/>
<line x1="506.95" y1="519.8" x2="550.45" y2="519.8" stroke="#121212" stroke-width="2.5" stroke-linecap="round"/>
<line x1="885.4" y1="571" x2="885.4" y2="566.2" stroke="#121212" stroke-width="2.5" stroke-linecap="butt"/>
<line x1="874.15" y1="566.2" x2="896.65" y2="566.2" stroke="#121212" stroke-width="2.5" stroke-linecap="round"/>
<line x1="885.4" y1="571" x2="885.4" y2="577.1" stroke="#121212" stroke-width="2.5" stroke-linecap="butt"/>
<line x1="874.15" y1="577.1" x2="896.65" y2="577.1" stroke="#121212" stroke-width="2.5" stroke-linecap="round"/>
<line x1="935.5" y1="569" x2="935.5" y2="562.5" stroke="#121212" stroke-width="2.5" stroke-linecap="butt"/>
<line x1="924.25" y1="562.5" x2="946.75" y2="562.5" stroke="#121212" stroke-width="2.5" stroke-linecap="round"/>
<line x1="998.9" y1="500.6" x2="998.9" y2="488.5" stroke="#121212" stroke-width="2.5" stroke-linecap="butt"/>
<line x1="987.65" y1="488.5" x2="1010.15" y2="488.5" stroke="#121212" stroke-width="2.5" stroke-linecap="round"/>
<line x1="1049" y1="500.2" x2="1049" y2="493.5" stroke="#121212" stroke-width="2.5" stroke-linecap="butt"/>
<line x1="1037.75" y1="493.5" x2="1060.25" y2="493.5" stroke="#121212" stroke-width="2.5" stroke-linecap="round"/>
<line x1="1112" y1="563.4" x2="1112" y2="553.3" stroke="#121212" stroke-width="2.5" stroke-linecap="butt"/>
<line x1="1100.75" y1="553.3" x2="1123.25" y2="553.3" stroke="#121212" stroke-width="2.5" stroke-linecap="round"/>
<line x1="1161.9" y1="559.5" x2="1161.9" y2="545.8" stroke="#121212" stroke-width="2.5" stroke-linecap="butt"/>
<line x1="1150.65" y1="545.8" x2="1173.15" y2="545.8" stroke="#121212" stroke-width="2.5" stroke-linecap="round"/>
<line x1="1225" y1="449.4" x2="1225" y2="432.1" stroke="#121212" stroke-width="2.5" stroke-linecap="butt"/>
<line x1="1213.75" y1="432.1" x2="1236.25" y2="432.1" stroke="#121212" stroke-width="2.5" stroke-linecap="round"/>
<line x1="1275.3" y1="548.4" x2="1275.3" y2="530" stroke="#121212" stroke-width="2.5" stroke-linecap="butt"/>
<line x1="1264.05" y1="530" x2="1286.55" y2="530" stroke="#121212" stroke-width="2.5" stroke-linecap="round"/>
<line x1="286.9" y1="1330.6" x2="286.9" y2="1321" stroke="#121212" stroke-width="2.5" stroke-linecap="butt"/>
<line x1="276.65" y1="1321" x2="297.15" y2="1321" stroke="#121212" stroke-width="2.5" stroke-linecap="round"/>
<line x1="334.3" y1="1333.9" x2="334.3" y2="1328.6" stroke="#121212" stroke-width="2.5" stroke-linecap="butt"/>
<line x1="324.05" y1="1328.6" x2="344.55" y2="1328.6" stroke="#121212" stroke-width="2.5" stroke-linecap="round"/>
<line x1="403" y1="1266.2" x2="403" y2="1247.4" stroke="#121212" stroke-width="2.5" stroke-linecap="butt"/>
<line x1="392.75" y1="1247.4" x2="413.25" y2="1247.4" stroke="#121212" stroke-width="2.5" stroke-linecap="round"/>
<line x1="450" y1="1313.6" x2="450" y2="1301.4" stroke="#121212" stroke-width="2.5" stroke-linecap="butt"/>
<line x1="439.75" y1="1301.4" x2="460.25" y2="1301.4" stroke="#121212" stroke-width="2.5" stroke-linecap="round"/>
<line x1="518.3" y1="1197.5" x2="518.3" y2="1174.5" stroke="#121212" stroke-width="2.5" stroke-linecap="butt"/>
<line x1="508.05" y1="1174.5" x2="528.55" y2="1174.5" stroke="#121212" stroke-width="2.5" stroke-linecap="round"/>
<line x1="565.5" y1="1281.6" x2="565.5" y2="1265.4" stroke="#121212" stroke-width="2.5" stroke-linecap="butt"/>
<line x1="555.25" y1="1265.4" x2="575.75" y2="1265.4" stroke="#121212" stroke-width="2.5" stroke-linecap="round"/>
<line x1="890.5" y1="1165.3" x2="890.5" y2="1147.3" stroke="#121212" stroke-width="2.5" stroke-linecap="butt"/>
<line x1="879.75" y1="1147.3" x2="901.25" y2="1147.3" stroke="#121212" stroke-width="2.5" stroke-linecap="round"/>
<line x1="936.8" y1="1170.7" x2="936.8" y2="1154.3" stroke="#121212" stroke-width="2.5" stroke-linecap="butt"/>
<line x1="926.05" y1="1154.3" x2="947.55" y2="1154.3" stroke="#121212" stroke-width="2.5" stroke-linecap="round"/>
<line x1="1002.1" y1="1259.4" x2="1002.1" y2="1250.5" stroke="#121212" stroke-width="2.5" stroke-linecap="butt"/>
<line x1="991.35" y1="1250.5" x2="1012.85" y2="1250.5" stroke="#121212" stroke-width="2.5" stroke-linecap="round"/>
<line x1="1047.7" y1="1247.7" x2="1047.7" y2="1227.5" stroke="#121212" stroke-width="2.5" stroke-linecap="butt"/>
<line x1="1036.95" y1="1227.5" x2="1058.45" y2="1227.5" stroke="#121212" stroke-width="2.5" stroke-linecap="round"/>
<line x1="1114" y1="1274" x2="1114" y2="1270.5" stroke="#121212" stroke-width="2.5" stroke-linecap="butt"/>
<line x1="1103.25" y1="1270.5" x2="1124.75" y2="1270.5" stroke="#121212" stroke-width="2.5" stroke-linecap="round"/>
<line x1="1159.9" y1="1314" x2="1159.9" y2="1301.9" stroke="#121212" stroke-width="2.5" stroke-linecap="butt"/>
<line x1="1149.15" y1="1301.9" x2="1170.65" y2="1301.9" stroke="#121212" stroke-width="2.5" stroke-linecap="round"/>
<line x1="1226.3" y1="1282" x2="1226.3" y2="1271.3" stroke="#121212" stroke-width="2.5" stroke-linecap="butt"/>
<line x1="1215.55" y1="1271.3" x2="1237.05" y2="1271.3" stroke="#121212" stroke-width="2.5" stroke-linecap="round"/>
<line x1="1271.9" y1="1326.6" x2="1271.9" y2="1313.6" stroke="#121212" stroke-width="2.5" stroke-linecap="butt"/>
<line x1="1261.15" y1="1313.6" x2="1282.65" y2="1313.6" stroke="#121212" stroke-width="2.5" stroke-linecap="round"/>
<line x1="189.3" y1="2028.8" x2="189.3" y2="2021" stroke="#121212" stroke-width="2.5" stroke-linecap="butt"/>
<line x1="175.55" y1="2021" x2="203.05" y2="2021" stroke="#121212" stroke-width="2.5" stroke-linecap="round"/>
<line x1="250.1" y1="2028.1" x2="250.1" y2="2022.6" stroke="#121212" stroke-width="2.5" stroke-linecap="butt"/>
<line x1="236.35" y1="2022.6" x2="263.85" y2="2022.6" stroke="#121212" stroke-width="2.5" stroke-linecap="round"/>
<line x1="338.5" y1="1907.1" x2="338.5" y2="1897.7" stroke="#121212" stroke-width="2.5" stroke-linecap="butt"/>
<line x1="324.75" y1="1897.7" x2="352.25" y2="1897.7" stroke="#121212" stroke-width="2.5" stroke-linecap="round"/>
<line x1="399.9" y1="1899.1" x2="399.9" y2="1885.9" stroke="#121212" stroke-width="2.5" stroke-linecap="butt"/>
<line x1="386.15" y1="1885.9" x2="413.65" y2="1885.9" stroke="#121212" stroke-width="2.5" stroke-linecap="round"/>
<line x1="488.6" y1="1826.4" x2="488.6" y2="1806.5" stroke="#121212" stroke-width="2.5" stroke-linecap="butt"/>
<line x1="474.85" y1="1806.5" x2="502.35" y2="1806.5" stroke="#121212" stroke-width="2.5" stroke-linecap="round"/>
<line x1="550.1" y1="1829.6" x2="550.1" y2="1811.3" stroke="#121212" stroke-width="2.5" stroke-linecap="butt"/>
<line x1="536.35" y1="1811.3" x2="563.85" y2="1811.3" stroke="#121212" stroke-width="2.5" stroke-linecap="round"/>
<line x1="905" y1="1945.6" x2="905" y2="1931.2" stroke="#121212" stroke-width="2.5" stroke-linecap="butt"/>
<line x1="892.25" y1="1931.2" x2="917.75" y2="1931.2" stroke="#121212" stroke-width="2.5" stroke-linecap="round"/>
<line x1="966.1" y1="1938.6" x2="966.1" y2="1926" stroke="#121212" stroke-width="2.5" stroke-linecap="butt"/>
<line x1="953.35" y1="1926" x2="978.85" y2="1926" stroke="#121212" stroke-width="2.5" stroke-linecap="round"/>
<line x1="1054.2" y1="1847.5" x2="1054.2" y2="1841.3" stroke="#121212" stroke-width="2.5" stroke-linecap="butt"/>
<line x1="1041.45" y1="1841.3" x2="1066.95" y2="1841.3" stroke="#121212" stroke-width="2.5" stroke-linecap="round"/>
<line x1="1115.2" y1="1845.6" x2="1115.2" y2="1836.6" stroke="#121212" stroke-width="2.5" stroke-linecap="butt"/>
<line x1="1102.45" y1="1836.6" x2="1127.95" y2="1836.6" stroke="#121212" stroke-width="2.5" stroke-linecap="round"/>
<line x1="1203.9" y1="1834.5" x2="1203.9" y2="1826.4" stroke="#121212" stroke-width="2.5" stroke-linecap="butt"/>
<line x1="1191.15" y1="1826.4" x2="1216.65" y2="1826.4" stroke="#121212" stroke-width="2.5" stroke-linecap="round"/>
<line x1="1265.6" y1="1830.9" x2="1265.6" y2="1823.6" stroke="#121212" stroke-width="2.5" stroke-linecap="butt"/>
<line x1="1252.85" y1="1823.6" x2="1278.35" y2="1823.6" stroke="#121212" stroke-width="2.5" stroke-linecap="round"/>
</svg>
</body></html>
